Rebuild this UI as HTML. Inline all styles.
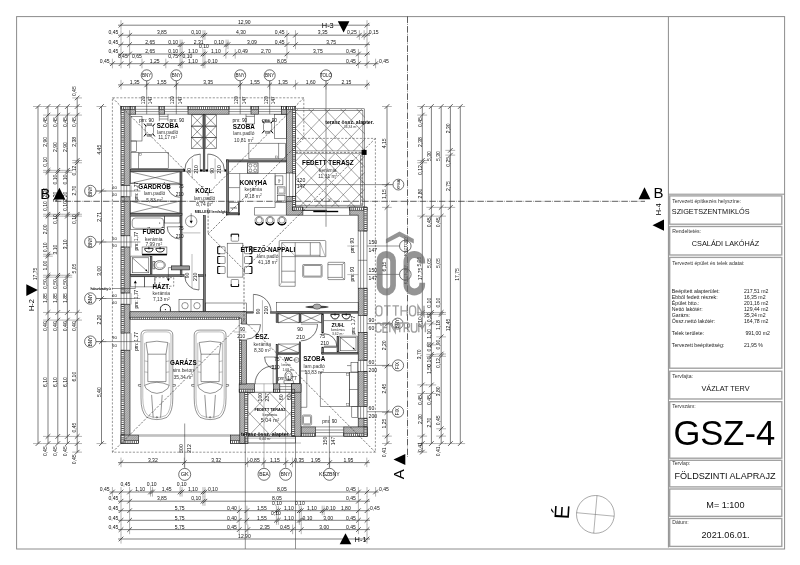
<!DOCTYPE html>
<html lang="hu"><head><meta charset="utf-8"><title>GSZ-4 F&#246;ldszinti alaprajz</title>
<style>
html,body{margin:0;padding:0;background:#fff;}
body{width:800px;height:565px;overflow:hidden;font-family:"Liberation Sans",sans-serif;}
svg{display:block;filter:grayscale(1);font-family:"Liberation Sans",sans-serif;}
.fr{stroke:#8c8c8c;stroke-width:1;fill:none;}
.bx{stroke:#a0a0a0;stroke-width:1.35;fill:none;}
.l{stroke:#2a2a2a;stroke-width:.5;fill:none;}
.lt{stroke:#555;stroke-width:.4;fill:none;}
.lw{stroke:#2a2a2a;stroke-width:.5;fill:#fff;}
.w{stroke:#111;stroke-width:.7;fill:none;}
.wf{stroke:#111;stroke-width:.6;fill:url(#hm);}
.wi{stroke:#111;stroke-width:.6;fill:url(#hi);}
.wp{stroke:#111;stroke-width:.7;fill:#fff;}
.pw{stroke:#1a1a1a;stroke-width:.6;fill:#fff;}
.dl{stroke:#2a2a2a;stroke-width:.6;fill:none;}
.tk{stroke:#111;stroke-width:.7;fill:none;}
.ext{stroke:#6a6a6a;stroke-width:.5;fill:none;}
.ds{stroke:#333;stroke-width:.5;fill:none;stroke-dasharray:2.2 1.5;}
.dg{stroke:#222;stroke-width:.6;fill:none;stroke-dasharray:2.2 1.5;}
.sec{stroke:#2a2a2a;stroke-width:.75;fill:none;stroke-dasharray:6.6 1.2 .6 1.2;}
.d{font-size:5.05px;fill:#111;}
.ds4{font-size:4.8px;fill:#111;}
.rb{font-size:6.3px;font-weight:bold;fill:#000;}
.rs{font-size:4.9px;fill:#333;}
.rt{font-size:3.4px;fill:#333;}
.tl{font-size:5.15px;fill:#333;}
.tv{font-size:5.2px;fill:#222;}
.t7{font-size:7.3px;fill:#111;}
.t9{font-size:9.1px;fill:#111;}
.tb{font-size:34.6px;fill:#000;}
.mk{font-size:15px;fill:#000;}
.mh{font-size:7.4px;fill:#000;}
.bk{fill:#000;stroke:none;}
.cl{font-size:4.5px;fill:#111;}
.tile{stroke:#333;stroke-width:.45;fill:none;}
.wm{fill:#8e8e8e;stroke:none;}
.wms{stroke:#8e8e8e;fill:none;}
.pt{stroke:#111;stroke-width:.5;fill:#787878;}
.dl5{font-size:5.1px;fill:#111;}
.dl4{font-size:4.7px;fill:#111;}

</style></head>
<body>
<svg width="800" height="565" viewBox="0 0 800 565">
<defs>
<pattern id="hm" width="1.6" height="1.6" patternUnits="userSpaceOnUse" patternTransform="rotate(45)">
<rect width="1.6" height="1.6" fill="#bcbcbc"/><line x1="0" y1="0" x2="0" y2="1.6" stroke="#5e5e5e" stroke-width=".55"/>
</pattern>
<pattern id="hi" width="2" height="2" patternUnits="userSpaceOnUse">
<rect width="2" height="2" fill="#d8d8d8"/><path d="M0 0H2M0 0V2" stroke="#111" stroke-width="1.1" fill="none"/>
</pattern>
<clipPath id="ct1"><rect x="295.7" y="108.8" width="69" height="98.2"/></clipPath>
<clipPath id="ct2"><rect x="247.9" y="391" width="44.6" height="43"/></clipPath>
</defs>

<rect x="0" y="0" width="800" height="565" fill="#fff"/>
<rect x="16.6" y="16.6" width="768" height="532.4" class="fr"/>
<line x1="668.4" y1="16.6" x2="668.4" y2="547.5" class="fr"/>
<line x1="668.4" y1="194.2" x2="784.5" y2="194.2" class="fr"/>
<rect x="669.7" y="195.9" width="112.1" height="28.3" class="bx"/>
<rect x="669.7" y="226.5" width="112.1" height="28.5" class="bx"/>
<rect x="669.7" y="257.4" width="112.1" height="110.8" class="bx"/>
<rect x="669.7" y="371.2" width="112.1" height="27.8" class="bx"/>
<rect x="669.7" y="401.7" width="112.1" height="56.5" class="bx"/>
<rect x="669.7" y="460.3" width="112.1" height="26.6" class="bx"/>
<rect x="669.7" y="489" width="112.1" height="27.3" class="bx"/>
<rect x="669.7" y="518.5" width="112.1" height="27.9" class="bx"/>
<text x="672.2" y="202.6" class="tl" text-anchor="start">Tervezett &#233;p&#237;tkez&#233;s helysz&#237;ne:</text>
<text x="671.8" y="214" class="t7" text-anchor="start">SZIGETSZENTMIKL&#211;S</text>
<text x="672.2" y="232.6" class="tl" text-anchor="start">Rendeltet&#233;s:</text>
<text x="725.5" y="246.1" class="t7" text-anchor="middle">CSAL&#193;DI LAK&#211;H&#193;Z</text>
<text x="672.2" y="265.2" class="tl" text-anchor="start">Tervezett &#233;p&#252;let &#233;s telek adatai:</text>
<text x="671.8" y="292.8" class="tv" text-anchor="start">Be&#233;p&#237;tett alapter&#252;let:</text>
<text x="743.9" y="292.8" class="tv" text-anchor="start">217,51 m2</text>
<text x="671.8" y="298.8" class="tv" text-anchor="start">Ebb&#337;l fedett r&#233;szek:</text>
<text x="743.9" y="298.8" class="tv" text-anchor="start">16,35 m2</text>
<text x="671.8" y="304.8" class="tv" text-anchor="start">&#201;p&#252;let btto.:</text>
<text x="743.9" y="304.8" class="tv" text-anchor="start">201,16 m2</text>
<text x="671.8" y="310.8" class="tv" text-anchor="start">Nett&#243; lak&#243;t&#233;r:</text>
<text x="743.9" y="310.8" class="tv" text-anchor="start">129,44 m2</text>
<text x="671.8" y="316.8" class="tv" text-anchor="start">Gar&#225;zs:</text>
<text x="743.9" y="316.8" class="tv" text-anchor="start">35,34 m2</text>
<text x="671.8" y="322.8" class="tv" text-anchor="start">&#214;ssz.nett&#243; lak&#243;t&#233;r:</text>
<text x="743.9" y="322.8" class="tv" text-anchor="start">164,78 m2</text>
<text x="671.8" y="334.8" class="tv" text-anchor="start">Telek ter&#252;lete:</text>
<text x="745.4" y="334.8" class="tv" text-anchor="start">991,00 m2</text>
<text x="671.8" y="346.8" class="tv" text-anchor="start">Tervezett be&#233;p&#237;tetts&#233;g:</text>
<text x="743.9" y="346.8" class="tv" text-anchor="start">21,95 %</text>
<text x="672.2" y="377.8" class="tl" text-anchor="start">Tervfajta:</text>
<text x="725.5" y="390.8" class="t7" text-anchor="middle">V&#193;ZLAT TERV</text>
<text x="672.2" y="407.6" class="tl" text-anchor="start">Tervsz&#225;m:</text>
<text x="724.3" y="444.9" class="tb" text-anchor="middle">GSZ-4</text>
<text x="672.2" y="464.8" class="tl" text-anchor="start">Tervlap:</text>
<text x="725" y="478.7" class="t9" text-anchor="middle">F&#214;LDSZINTI ALAPRAJZ</text>
<text x="725.4" y="507.9" class="t9" text-anchor="middle">M= 1:100</text>
<text x="672.2" y="524.1" class="tl" text-anchor="start">D&#225;tum:</text>
<text x="725.6" y="537.5" class="t9" text-anchor="middle">2021.06.01.</text>
<g clip-path="url(#ct1)">
<line x1="100.5" y1="108.8" x2="195.16" y2="207" class="tile"/>
<line x1="106.1" y1="108.8" x2="11.44" y2="207" class="tile"/>
<line x1="116.5" y1="108.8" x2="211.16" y2="207" class="tile"/>
<line x1="122.1" y1="108.8" x2="27.44" y2="207" class="tile"/>
<line x1="132.5" y1="108.8" x2="227.16" y2="207" class="tile"/>
<line x1="138.1" y1="108.8" x2="43.44" y2="207" class="tile"/>
<line x1="148.5" y1="108.8" x2="243.16" y2="207" class="tile"/>
<line x1="154.1" y1="108.8" x2="59.44" y2="207" class="tile"/>
<line x1="164.5" y1="108.8" x2="259.16" y2="207" class="tile"/>
<line x1="170.1" y1="108.8" x2="75.44" y2="207" class="tile"/>
<line x1="180.5" y1="108.8" x2="275.16" y2="207" class="tile"/>
<line x1="186.1" y1="108.8" x2="91.44" y2="207" class="tile"/>
<line x1="196.5" y1="108.8" x2="291.16" y2="207" class="tile"/>
<line x1="202.1" y1="108.8" x2="107.44" y2="207" class="tile"/>
<line x1="212.5" y1="108.8" x2="307.16" y2="207" class="tile"/>
<line x1="218.1" y1="108.8" x2="123.44" y2="207" class="tile"/>
<line x1="228.5" y1="108.8" x2="323.16" y2="207" class="tile"/>
<line x1="234.1" y1="108.8" x2="139.44" y2="207" class="tile"/>
<line x1="244.5" y1="108.8" x2="339.16" y2="207" class="tile"/>
<line x1="250.1" y1="108.8" x2="155.44" y2="207" class="tile"/>
<line x1="260.5" y1="108.8" x2="355.16" y2="207" class="tile"/>
<line x1="266.1" y1="108.8" x2="171.44" y2="207" class="tile"/>
<line x1="276.5" y1="108.8" x2="371.16" y2="207" class="tile"/>
<line x1="282.1" y1="108.8" x2="187.44" y2="207" class="tile"/>
<line x1="292.5" y1="108.8" x2="387.16" y2="207" class="tile"/>
<line x1="298.1" y1="108.8" x2="203.44" y2="207" class="tile"/>
<line x1="308.5" y1="108.8" x2="403.16" y2="207" class="tile"/>
<line x1="314.1" y1="108.8" x2="219.44" y2="207" class="tile"/>
<line x1="324.5" y1="108.8" x2="419.16" y2="207" class="tile"/>
<line x1="330.1" y1="108.8" x2="235.44" y2="207" class="tile"/>
<line x1="340.5" y1="108.8" x2="435.16" y2="207" class="tile"/>
<line x1="346.1" y1="108.8" x2="251.44" y2="207" class="tile"/>
<line x1="356.5" y1="108.8" x2="451.16" y2="207" class="tile"/>
<line x1="362.1" y1="108.8" x2="267.44" y2="207" class="tile"/>
<line x1="372.5" y1="108.8" x2="467.16" y2="207" class="tile"/>
<line x1="378.1" y1="108.8" x2="283.44" y2="207" class="tile"/>
<line x1="388.5" y1="108.8" x2="483.16" y2="207" class="tile"/>
<line x1="394.1" y1="108.8" x2="299.44" y2="207" class="tile"/>
<line x1="404.5" y1="108.8" x2="499.16" y2="207" class="tile"/>
<line x1="410.1" y1="108.8" x2="315.44" y2="207" class="tile"/>
<line x1="420.5" y1="108.8" x2="515.16" y2="207" class="tile"/>
<line x1="426.1" y1="108.8" x2="331.44" y2="207" class="tile"/>
<line x1="436.5" y1="108.8" x2="531.16" y2="207" class="tile"/>
<line x1="442.1" y1="108.8" x2="347.44" y2="207" class="tile"/>
<line x1="452.5" y1="108.8" x2="547.16" y2="207" class="tile"/>
<line x1="458.1" y1="108.8" x2="363.44" y2="207" class="tile"/>
<line x1="468.5" y1="108.8" x2="563.16" y2="207" class="tile"/>
<line x1="474.1" y1="108.8" x2="379.44" y2="207" class="tile"/>
<line x1="484.5" y1="108.8" x2="579.16" y2="207" class="tile"/>
<line x1="490.1" y1="108.8" x2="395.44" y2="207" class="tile"/>
<line x1="500.5" y1="108.8" x2="595.16" y2="207" class="tile"/>
<line x1="506.1" y1="108.8" x2="411.44" y2="207" class="tile"/>
<line x1="516.5" y1="108.8" x2="611.16" y2="207" class="tile"/>
<line x1="522.1" y1="108.8" x2="427.44" y2="207" class="tile"/>
</g>
<rect x="295.7" y="108.8" width="69" height="98.2" class="l"/>
<rect x="295.7" y="110.6" width="67.2" height="94.6" class="l"/>
<rect x="295.7" y="150.9" width="66.5" height="2.9" fill="#fff" stroke="#333" stroke-width=".45"/>
<line x1="295.7" y1="152.35" x2="362" y2="152.35" class="dg"/>
<line x1="360.5" y1="154.9" x2="360.5" y2="205.2" class="l"/>
<line x1="362" y1="154.9" x2="362" y2="205.2" class="dg"/>
<rect x="361.6" y="149.9" width="5" height="5" class="bk"/>
<path d="M320.4 198.2L323.6 201.8M323.6 198.2L320.4 201.8" class="l"/>
<path d="M327.9 198.2L331.1 201.8M331.1 198.2L327.9 201.8" class="l"/>
<g clip-path="url(#ct2)">
<line x1="110.54" y1="392.2" x2="150.52" y2="434.2" class="tile"/>
<line x1="131.86" y1="392.2" x2="91.88" y2="434.2" class="tile"/>
<line x1="130.34" y1="392.2" x2="170.32" y2="434.2" class="tile"/>
<line x1="151.66" y1="392.2" x2="111.68" y2="434.2" class="tile"/>
<line x1="150.14" y1="392.2" x2="190.12" y2="434.2" class="tile"/>
<line x1="171.46" y1="392.2" x2="131.48" y2="434.2" class="tile"/>
<line x1="169.94" y1="392.2" x2="209.92" y2="434.2" class="tile"/>
<line x1="191.26" y1="392.2" x2="151.28" y2="434.2" class="tile"/>
<line x1="189.74" y1="392.2" x2="229.72" y2="434.2" class="tile"/>
<line x1="211.06" y1="392.2" x2="171.08" y2="434.2" class="tile"/>
<line x1="209.54" y1="392.2" x2="249.52" y2="434.2" class="tile"/>
<line x1="230.86" y1="392.2" x2="190.88" y2="434.2" class="tile"/>
<line x1="229.34" y1="392.2" x2="269.32" y2="434.2" class="tile"/>
<line x1="250.66" y1="392.2" x2="210.68" y2="434.2" class="tile"/>
<line x1="249.14" y1="392.2" x2="289.12" y2="434.2" class="tile"/>
<line x1="270.46" y1="392.2" x2="230.48" y2="434.2" class="tile"/>
<line x1="268.94" y1="392.2" x2="308.92" y2="434.2" class="tile"/>
<line x1="290.26" y1="392.2" x2="250.28" y2="434.2" class="tile"/>
<line x1="288.74" y1="392.2" x2="328.72" y2="434.2" class="tile"/>
<line x1="310.06" y1="392.2" x2="270.08" y2="434.2" class="tile"/>
<line x1="308.54" y1="392.2" x2="348.52" y2="434.2" class="tile"/>
<line x1="329.86" y1="392.2" x2="289.88" y2="434.2" class="tile"/>
<line x1="328.34" y1="392.2" x2="368.32" y2="434.2" class="tile"/>
<line x1="349.66" y1="392.2" x2="309.68" y2="434.2" class="tile"/>
<line x1="348.14" y1="392.2" x2="388.12" y2="434.2" class="tile"/>
<line x1="369.46" y1="392.2" x2="329.48" y2="434.2" class="tile"/>
<line x1="367.94" y1="392.2" x2="407.92" y2="434.2" class="tile"/>
<line x1="389.26" y1="392.2" x2="349.28" y2="434.2" class="tile"/>
<line x1="387.74" y1="392.2" x2="427.72" y2="434.2" class="tile"/>
<line x1="409.06" y1="392.2" x2="369.08" y2="434.2" class="tile"/>
</g>
<rect x="247.8" y="392.2" width="44" height="42" class="l"/>
<line x1="239.2" y1="436.2" x2="301" y2="436.2" class="l"/>
<rect x="244.7" y="436.2" width="50.9" height="6.8" class="l"/>
<line x1="244.7" y1="438.2" x2="295.6" y2="438.2" class="lt"/>
<line x1="236" y1="443" x2="301" y2="443" class="lt"/>
<rect x="121.1" y="106.4" width="14.6" height="7.8" class="wf"/>
<rect x="121.1" y="106.4" width="14.6" height="3" fill="#fff" stroke="#111" stroke-width=".55"/>
<line x1="121.1" y1="107.9" x2="135.7" y2="107.9" stroke="#111" stroke-width="2.5" stroke-dasharray=".6 1.3"/>
<rect x="159" y="106.4" width="5.7" height="7.8" class="wf"/>
<rect x="159" y="106.4" width="5.7" height="3" fill="#fff" stroke="#111" stroke-width=".55"/>
<line x1="159" y1="107.9" x2="164.7" y2="107.9" stroke="#111" stroke-width="2.5" stroke-dasharray=".6 1.3"/>
<rect x="188" y="106.4" width="41" height="7.8" class="wf"/>
<rect x="188" y="106.4" width="41" height="3" fill="#fff" stroke="#111" stroke-width=".55"/>
<line x1="188" y1="107.9" x2="229" y2="107.9" stroke="#111" stroke-width="2.5" stroke-dasharray=".6 1.3"/>
<rect x="251" y="106.4" width="7.4" height="7.8" class="wf"/>
<rect x="251" y="106.4" width="7.4" height="3" fill="#fff" stroke="#111" stroke-width=".55"/>
<line x1="251" y1="107.9" x2="258.4" y2="107.9" stroke="#111" stroke-width="2.5" stroke-dasharray=".6 1.3"/>
<rect x="281.4" y="106.4" width="14.2" height="7.8" class="wf"/>
<rect x="281.4" y="106.4" width="14.2" height="3" fill="#fff" stroke="#111" stroke-width=".55"/>
<line x1="281.4" y1="107.9" x2="295.6" y2="107.9" stroke="#111" stroke-width="2.5" stroke-dasharray=".6 1.3"/>
<line x1="135.7" y1="106.4" x2="159" y2="106.4" class="l"/>
<line x1="135.7" y1="109.3" x2="159" y2="109.3" class="l"/>
<line x1="135.7" y1="111.6" x2="159" y2="111.6" class="l"/>
<line x1="135.7" y1="114.2" x2="159" y2="114.2" class="l"/>
<line x1="164.7" y1="106.4" x2="188" y2="106.4" class="l"/>
<line x1="164.7" y1="109.3" x2="188" y2="109.3" class="l"/>
<line x1="164.7" y1="111.6" x2="188" y2="111.6" class="l"/>
<line x1="164.7" y1="114.2" x2="188" y2="114.2" class="l"/>
<line x1="229" y1="106.4" x2="251" y2="106.4" class="l"/>
<line x1="229" y1="109.3" x2="251" y2="109.3" class="l"/>
<line x1="229" y1="111.6" x2="251" y2="111.6" class="l"/>
<line x1="229" y1="114.2" x2="251" y2="114.2" class="l"/>
<line x1="258.4" y1="106.4" x2="281.4" y2="106.4" class="l"/>
<line x1="258.4" y1="109.3" x2="281.4" y2="109.3" class="l"/>
<line x1="258.4" y1="111.6" x2="281.4" y2="111.6" class="l"/>
<line x1="258.4" y1="114.2" x2="281.4" y2="114.2" class="l"/>
<rect x="121.1" y="106.4" width="8.9" height="79.1" class="wf"/>
<rect x="121.1" y="106.4" width="3" height="79.1" fill="#fff" stroke="#111" stroke-width=".55"/>
<line x1="122.6" y1="106.4" x2="122.6" y2="185.5" stroke="#111" stroke-width="2.5" stroke-dasharray=".6 1.3"/>
<rect x="121.1" y="196.8" width="8.9" height="39" class="wf"/>
<rect x="121.1" y="196.8" width="3" height="39" fill="#fff" stroke="#111" stroke-width=".55"/>
<line x1="122.6" y1="196.8" x2="122.6" y2="235.8" stroke="#111" stroke-width="2.5" stroke-dasharray=".6 1.3"/>
<rect x="121.1" y="247" width="8.9" height="46" class="wf"/>
<rect x="121.1" y="247" width="3" height="46" fill="#fff" stroke="#111" stroke-width=".55"/>
<line x1="122.6" y1="247" x2="122.6" y2="293" stroke="#111" stroke-width="2.5" stroke-dasharray=".6 1.3"/>
<rect x="121.1" y="304.2" width="8.9" height="28.8" class="wf"/>
<rect x="121.1" y="304.2" width="3" height="28.8" fill="#fff" stroke="#111" stroke-width=".55"/>
<line x1="122.6" y1="304.2" x2="122.6" y2="333" stroke="#111" stroke-width="2.5" stroke-dasharray=".6 1.3"/>
<rect x="121.1" y="350.2" width="8.9" height="93.3" class="wf"/>
<rect x="121.1" y="350.2" width="3" height="93.3" fill="#fff" stroke="#111" stroke-width=".55"/>
<line x1="122.6" y1="350.2" x2="122.6" y2="443.5" stroke="#111" stroke-width="2.5" stroke-dasharray=".6 1.3"/>
<line x1="121.1" y1="185.5" x2="121.1" y2="196.8" class="l"/>
<line x1="124" y1="185.5" x2="124" y2="196.8" class="l"/>
<line x1="126.7" y1="185.5" x2="126.7" y2="196.8" class="l"/>
<line x1="130" y1="185.5" x2="130" y2="196.8" class="l"/>
<line x1="121.1" y1="235.8" x2="121.1" y2="247" class="l"/>
<line x1="124" y1="235.8" x2="124" y2="247" class="l"/>
<line x1="126.7" y1="235.8" x2="126.7" y2="247" class="l"/>
<line x1="130" y1="235.8" x2="130" y2="247" class="l"/>
<line x1="121.1" y1="293" x2="121.1" y2="304.2" class="l"/>
<line x1="124" y1="293" x2="124" y2="304.2" class="l"/>
<line x1="126.7" y1="293" x2="126.7" y2="304.2" class="l"/>
<line x1="130" y1="293" x2="130" y2="304.2" class="l"/>
<line x1="121.1" y1="333" x2="121.1" y2="350.2" class="l"/>
<line x1="124" y1="333" x2="124" y2="350.2" class="l"/>
<line x1="126.7" y1="333" x2="126.7" y2="350.2" class="l"/>
<line x1="130" y1="333" x2="130" y2="350.2" class="l"/>
<rect x="121.1" y="106.4" width="8.9" height="3" fill="#fff" stroke="#111" stroke-width=".55"/>
<line x1="121.1" y1="107.9" x2="130" y2="107.9" stroke="#111" stroke-width="2.5" stroke-dasharray=".6 1.3"/>
<rect x="121.1" y="435" width="17.3" height="8.5" class="wf"/>
<rect x="121.1" y="440.5" width="17.3" height="3" fill="#fff" stroke="#111" stroke-width=".55"/>
<line x1="121.1" y1="442" x2="138.4" y2="442" stroke="#111" stroke-width="2.5" stroke-dasharray=".6 1.3"/>
<rect x="121.1" y="435" width="3" height="8.5" fill="#fff" stroke="#111" stroke-width=".55"/>
<line x1="122.6" y1="435" x2="122.6" y2="443.5" stroke="#111" stroke-width="2.5" stroke-dasharray=".6 1.3"/>
<rect x="230.3" y="435" width="17.5" height="8.5" class="wf"/>
<rect x="230.3" y="440.5" width="17.5" height="3" fill="#fff" stroke="#111" stroke-width=".55"/>
<line x1="230.3" y1="442" x2="247.8" y2="442" stroke="#111" stroke-width="2.5" stroke-dasharray=".6 1.3"/>
<line x1="138.4" y1="435" x2="230.3" y2="435" class="l"/>
<line x1="138.4" y1="436.3" x2="230.3" y2="436.3" class="lt"/>
<rect x="286.4" y="106.4" width="9.2" height="66.6" class="wf"/>
<rect x="292.6" y="106.4" width="3" height="66.6" fill="#fff" stroke="#111" stroke-width=".55"/>
<line x1="294.1" y1="106.4" x2="294.1" y2="173" stroke="#111" stroke-width="2.5" stroke-dasharray=".6 1.3"/>
<rect x="286.4" y="106.4" width="9.2" height="3" fill="#fff" stroke="#111" stroke-width=".55"/>
<line x1="286.4" y1="107.9" x2="295.6" y2="107.9" stroke="#111" stroke-width="2.5" stroke-dasharray=".6 1.3"/>
<line x1="286.4" y1="173" x2="286.4" y2="196.5" class="l"/>
<line x1="289.4" y1="173" x2="289.4" y2="196.5" class="l"/>
<line x1="292.8" y1="173" x2="292.8" y2="196.5" class="l"/>
<line x1="295.6" y1="173" x2="295.6" y2="196.5" class="l"/>
<path d="M286.4 196.5H295.6V207.2H302.8V215.2H286.4Z" class="wf"/>
<rect x="292.6" y="196.5" width="3" height="13.7" fill="#fff" stroke="#111" stroke-width=".55"/>
<line x1="294.1" y1="196.5" x2="294.1" y2="210.2" stroke="#111" stroke-width="2.5" stroke-dasharray=".6 1.3"/>
<rect x="292.6" y="207.2" width="10.2" height="3" fill="#fff" stroke="#111" stroke-width=".55"/>
<line x1="292.6" y1="208.7" x2="302.8" y2="208.7" stroke="#111" stroke-width="2.5" stroke-dasharray=".6 1.3"/>
<path d="M349.7 207.2H367V231H358.2V215.2H349.7Z" class="wf"/>
<rect x="349.7" y="207.2" width="17.3" height="3" fill="#fff" stroke="#111" stroke-width=".55"/>
<line x1="349.7" y1="208.7" x2="367" y2="208.7" stroke="#111" stroke-width="2.5" stroke-dasharray=".6 1.3"/>
<rect x="364" y="207.2" width="3" height="23.8" fill="#fff" stroke="#111" stroke-width=".55"/>
<line x1="365.5" y1="207.2" x2="365.5" y2="231" stroke="#111" stroke-width="2.5" stroke-dasharray=".6 1.3"/>
<line x1="302.6" y1="210.3" x2="327" y2="210.3" class="l" style="stroke:#000;stroke-width:.9"/>
<line x1="313.3" y1="211.5" x2="338.2" y2="211.5" class="l" style="stroke:#000;stroke-width:1.4"/>
<line x1="302.8" y1="207.8" x2="349.7" y2="207.8" class="l"/>
<line x1="302.8" y1="215.4" x2="349.7" y2="215.4" class="l"/>
<rect x="358.2" y="288.2" width="8.8" height="27.2" class="wf"/>
<rect x="364" y="288.2" width="3" height="27.2" fill="#fff" stroke="#111" stroke-width=".55"/>
<line x1="365.5" y1="288.2" x2="365.5" y2="315.4" stroke="#111" stroke-width="2.5" stroke-dasharray=".6 1.3"/>
<rect x="358.2" y="332.4" width="8.8" height="27.8" class="wf"/>
<rect x="364" y="332.4" width="3" height="27.8" fill="#fff" stroke="#111" stroke-width=".55"/>
<line x1="365.5" y1="332.4" x2="365.5" y2="360.2" stroke="#111" stroke-width="2.5" stroke-dasharray=".6 1.3"/>
<rect x="358.2" y="371.6" width="8.8" height="34.9" class="wf"/>
<rect x="364" y="371.6" width="3" height="34.9" fill="#fff" stroke="#111" stroke-width=".55"/>
<line x1="365.5" y1="371.6" x2="365.5" y2="406.5" stroke="#111" stroke-width="2.5" stroke-dasharray=".6 1.3"/>
<rect x="358.2" y="418.2" width="8.8" height="18" class="wf"/>
<rect x="364" y="418.2" width="3" height="18" fill="#fff" stroke="#111" stroke-width=".55"/>
<line x1="365.5" y1="418.2" x2="365.5" y2="436.2" stroke="#111" stroke-width="2.5" stroke-dasharray=".6 1.3"/>
<line x1="358.2" y1="231" x2="358.2" y2="288.2" class="l"/>
<line x1="360.6" y1="231" x2="360.6" y2="288.2" class="l"/>
<line x1="363.6" y1="231" x2="363.6" y2="288.2" class="l"/>
<line x1="367" y1="231" x2="367" y2="288.2" class="l"/>
<line x1="358.2" y1="315.4" x2="358.2" y2="332.4" class="l"/>
<line x1="360.6" y1="315.4" x2="360.6" y2="332.4" class="l"/>
<line x1="363.6" y1="315.4" x2="363.6" y2="332.4" class="l"/>
<line x1="367" y1="315.4" x2="367" y2="332.4" class="l"/>
<line x1="358.2" y1="360.2" x2="358.2" y2="371.6" class="l"/>
<line x1="360.6" y1="360.2" x2="360.6" y2="371.6" class="l"/>
<line x1="363.6" y1="360.2" x2="363.6" y2="371.6" class="l"/>
<line x1="367" y1="360.2" x2="367" y2="371.6" class="l"/>
<line x1="358.2" y1="406.5" x2="358.2" y2="418.2" class="l"/>
<line x1="360.6" y1="406.5" x2="360.6" y2="418.2" class="l"/>
<line x1="363.6" y1="406.5" x2="363.6" y2="418.2" class="l"/>
<line x1="367" y1="406.5" x2="367" y2="418.2" class="l"/>
<line x1="358.2" y1="260.3" x2="367" y2="260.3" class="l"/>
<rect x="301" y="426.9" width="14.4" height="9.3" class="wf"/>
<rect x="301" y="433.2" width="14.4" height="3" fill="#fff" stroke="#111" stroke-width=".55"/>
<line x1="301" y1="434.7" x2="315.4" y2="434.7" stroke="#111" stroke-width="2.5" stroke-dasharray=".6 1.3"/>
<rect x="343.8" y="426.9" width="23.2" height="9.3" class="wf"/>
<rect x="343.8" y="433.2" width="23.2" height="3" fill="#fff" stroke="#111" stroke-width=".55"/>
<line x1="343.8" y1="434.7" x2="367" y2="434.7" stroke="#111" stroke-width="2.5" stroke-dasharray=".6 1.3"/>
<rect x="364" y="426.9" width="3" height="9.3" fill="#fff" stroke="#111" stroke-width=".55"/>
<line x1="365.5" y1="426.9" x2="365.5" y2="436.2" stroke="#111" stroke-width="2.5" stroke-dasharray=".6 1.3"/>
<line x1="315.4" y1="426.9" x2="343.8" y2="426.9" class="l"/>
<line x1="315.4" y1="430" x2="343.8" y2="430" class="l"/>
<line x1="315.4" y1="432.6" x2="343.8" y2="432.6" class="l"/>
<line x1="315.4" y1="436.2" x2="343.8" y2="436.2" class="l"/>
<rect x="291.8" y="383.8" width="9.2" height="52.4" class="wf"/>
<rect x="291.8" y="383.8" width="3" height="52.4" fill="#fff" stroke="#111" stroke-width=".55"/>
<line x1="293.3" y1="383.8" x2="293.3" y2="436.2" stroke="#111" stroke-width="2.5" stroke-dasharray=".6 1.3"/>
<rect x="239.2" y="383.8" width="15.4" height="8.4" class="wf"/>
<rect x="239.2" y="389.2" width="15.4" height="3" fill="#fff" stroke="#111" stroke-width=".55"/>
<line x1="239.2" y1="390.7" x2="254.6" y2="390.7" stroke="#111" stroke-width="2.5" stroke-dasharray=".6 1.3"/>
<rect x="273.6" y="383.8" width="6.2" height="8.4" class="wf"/>
<rect x="273.6" y="389.2" width="6.2" height="3" fill="#fff" stroke="#111" stroke-width=".55"/>
<line x1="273.6" y1="390.7" x2="279.8" y2="390.7" stroke="#111" stroke-width="2.5" stroke-dasharray=".6 1.3"/>
<rect x="291.6" y="383.8" width="9.4" height="8.4" class="wf"/>
<rect x="291.8" y="389.2" width="3" height="3" fill="#fff" stroke="#111" stroke-width=".55"/>
<line x1="291.8" y1="390.7" x2="294.8" y2="390.7" stroke="#111" stroke-width="2.5" stroke-dasharray=".6 1.3"/>
<line x1="279.8" y1="383.8" x2="291.6" y2="383.8" class="l"/>
<line x1="279.8" y1="386.6" x2="291.6" y2="386.6" class="l"/>
<line x1="279.8" y1="389.4" x2="291.6" y2="389.4" class="l"/>
<line x1="279.8" y1="392.2" x2="291.6" y2="392.2" class="l"/>
<line x1="254.6" y1="383.8" x2="273.6" y2="383.8" class="lt"/>
<line x1="254.6" y1="392.2" x2="273.6" y2="392.2" class="lt"/>
<rect x="239.8" y="392.2" width="8" height="51.3" class="wf"/>
<rect x="244.8" y="392.2" width="3" height="51.3" fill="#fff" stroke="#111" stroke-width=".55"/>
<line x1="246.3" y1="392.2" x2="246.3" y2="443.5" stroke="#111" stroke-width="2.5" stroke-dasharray=".6 1.3"/>
<rect x="239.3" y="340" width="7.2" height="44" class="wf"/>
<rect x="239.3" y="340" width="2.1" height="44" fill="#fff" stroke="#111" stroke-width=".55"/>
<line x1="240.35" y1="340" x2="240.35" y2="384" stroke="#111" stroke-width="1.6" stroke-dasharray=".6 1.3"/>
<path d="M130 311.6H246.5V324.1H241.4V318.2H130Z" class="wf"/>
<line x1="239.3" y1="319.2" x2="239.3" y2="340" class="l"/>
<rect x="130" y="317.2" width="109.3" height="2.2" fill="#fff" stroke="#111" stroke-width=".55"/>
<line x1="130" y1="318.3" x2="239.3" y2="318.3" stroke="#111" stroke-width="1.7" stroke-dasharray=".6 1.3"/>
<rect x="203.2" y="114.5" width="1.7" height="57.2" class="pt"/>
<rect x="130.3" y="169.1" width="54" height="2.2" class="pt"/>
<rect x="226.5" y="159.9" width="59.6" height="2.1" class="pt"/>
<rect x="226.5" y="159.9" width="2.2" height="55" class="pt"/>
<rect x="226.5" y="213" width="12.9" height="1.9" class="pt"/>
<rect x="238.7" y="202.8" width="0.7" height="12.1" class="pt"/>
<rect x="180.2" y="171.9" width="1.8" height="104.6" class="pt"/>
<rect x="130.3" y="213.4" width="51.7" height="2" class="pt"/>
<rect x="130.3" y="274.7" width="53.8" height="1.8" class="pt"/>
<rect x="198.7" y="274.7" width="6.6" height="1.8" class="pt"/>
<rect x="203.3" y="215.6" width="2" height="95.7" class="pt"/>
<rect x="150.7" y="256.3" width="1.3" height="17.8" class="pt"/>
<rect x="270.7" y="311.8" width="87.2" height="1.4" class="pt"/>
<rect x="246.8" y="311.8" width="6.5" height="1.3" class="pt"/>
<rect x="299.3" y="313.8" width="1.4" height="8.9" class="pt"/>
<rect x="299.3" y="341.9" width="1.4" height="41.6" class="pt"/>
<rect x="276.1" y="313.8" width="1.8" height="8.7" class="pt"/>
<rect x="276.1" y="344.3" width="1.6" height="39.2" class="pt"/>
<rect x="278.5" y="353.1" width="20.2" height="1.3" class="pt"/>
<rect x="321.8" y="313.8" width="1.8" height="19.3" class="pt"/>
<rect x="321.8" y="347.1" width="1.8" height="7" class="pt"/>
<rect x="321.8" y="352.6" width="36.1" height="1.5" class="pt"/>
<rect x="337" y="336.4" width="1.7" height="15.6" class="pt"/>
<rect x="191.7" y="114.8" width="11.2" height="11.3" class="l"/>
<line x1="191.7" y1="114.8" x2="202.9" y2="126.1" class="l"/>
<line x1="191.7" y1="126.1" x2="202.9" y2="114.8" class="l"/>
<rect x="205.2" y="114.8" width="11.1" height="11.3" class="l"/>
<line x1="205.2" y1="114.8" x2="216.3" y2="126.1" class="l"/>
<line x1="205.2" y1="126.1" x2="216.3" y2="114.8" class="l"/>
<rect x="191.7" y="126.1" width="11.2" height="11.3" class="l"/>
<line x1="191.7" y1="126.1" x2="202.9" y2="137.4" class="l"/>
<line x1="191.7" y1="137.4" x2="202.9" y2="126.1" class="l"/>
<rect x="205.2" y="126.1" width="11.1" height="11.3" class="l"/>
<line x1="205.2" y1="126.1" x2="216.3" y2="137.4" class="l"/>
<line x1="205.2" y1="137.4" x2="216.3" y2="126.1" class="l"/>
<rect x="191.7" y="137.4" width="11.2" height="11.3" class="l"/>
<line x1="191.7" y1="137.4" x2="202.9" y2="148.7" class="l"/>
<line x1="191.7" y1="148.7" x2="202.9" y2="137.4" class="l"/>
<rect x="205.2" y="137.4" width="11.1" height="11.3" class="l"/>
<line x1="205.2" y1="137.4" x2="216.3" y2="148.7" class="l"/>
<line x1="205.2" y1="148.7" x2="216.3" y2="137.4" class="l"/>
<rect x="130.4" y="171.8" width="49.5" height="11.6" class="l"/>
<line x1="130.4" y1="171.8" x2="179.9" y2="183.4" class="l"/>
<line x1="130.4" y1="183.4" x2="179.9" y2="171.8" class="l"/>
<rect x="130.4" y="201.1" width="49.5" height="12" class="l"/>
<line x1="130.4" y1="201.1" x2="179.9" y2="213.1" class="l"/>
<line x1="130.4" y1="213.1" x2="179.9" y2="201.1" class="l"/>
<rect x="278.2" y="313.7" width="20.8" height="9.1" class="l"/>
<line x1="278.2" y1="313.7" x2="299" y2="322.8" class="l"/>
<line x1="278.2" y1="322.8" x2="299" y2="313.7" class="l"/>
<rect x="301" y="313.7" width="20.5" height="9.1" class="l"/>
<line x1="301" y1="313.7" x2="321.5" y2="322.8" class="l"/>
<line x1="301" y1="322.8" x2="321.5" y2="313.7" class="l"/>
<rect x="278.2" y="344" width="20.8" height="8.8" class="l"/>
<line x1="278.2" y1="344" x2="299" y2="352.8" class="l"/>
<line x1="278.2" y1="352.8" x2="299" y2="344" class="l"/>
<path d="M184.75 170 A15.55 15.9 0 0 1 200.3 154.1" class="l" style="stroke:#111;stroke-width:.6"/>
<line x1="200.3" y1="170" x2="200.3" y2="154.1" class="l"/>
<path d="M224.4 170 A16.7 15.9 0 0 0 207.7 154.1" class="l" style="stroke:#111;stroke-width:.6"/>
<line x1="207.7" y1="170" x2="207.7" y2="154.1" class="l"/>
<rect x="183.6" y="169.4" width="1.6" height="2.2" class="bk"/>
<rect x="200" y="169.4" width="2.7" height="2.2" class="bk"/>
<rect x="205.4" y="169.4" width="2.6" height="2.2" class="bk"/>
<rect x="224.4" y="169.4" width="1.8" height="2.2" class="bk"/>
<line x1="185.2" y1="171" x2="200" y2="171" class="lt"/>
<line x1="208" y1="171" x2="224.4" y2="171" class="lt"/>
<line x1="192.3" y1="158.5" x2="192.3" y2="179" class="lt"/>
<line x1="215.1" y1="158.5" x2="215.1" y2="179" class="lt"/>
<path d="M167.2 184.6 A12.7 12.7 0 0 0 179.9 197.3" class="l" style="stroke:#111;stroke-width:.6"/>
<line x1="179.9" y1="184.6" x2="167.2" y2="184.6" class="l"/>
<path d="M167.2 226.8 A12.7 12.2 0 0 0 179.9 239" class="l" style="stroke:#111;stroke-width:.6"/>
<line x1="179.9" y1="226.8" x2="167.2" y2="226.8" class="l"/>
<path d="M184.8 276.2 A14.2 13.8 0 0 0 199 290" class="l" style="stroke:#111;stroke-width:.6"/>
<line x1="199" y1="276.2" x2="199" y2="290" class="l"/>
<line x1="192" y1="254" x2="192" y2="288.6" class="lt"/>
<line x1="182.3" y1="232.9" x2="200.4" y2="232.9" class="lt"/>
<path d="M253.4 294.4 A17.6 17.2 0 0 1 271 311.6" class="l" style="stroke:#111;stroke-width:.6"/>
<line x1="253.4" y1="311.6" x2="253.4" y2="294.4" class="l"/>
<line x1="262.45" y1="300.2" x2="262.45" y2="332.6" class="lt"/>
<path d="M260.5 324.6 A14 14.6 0 0 1 246.5 339.2" class="l" style="stroke:#111;stroke-width:.6"/>
<line x1="246.5" y1="324.6" x2="260.5" y2="324.6" class="l"/>
<line x1="234" y1="332" x2="246.5" y2="332" class="lt"/>
<path d="M317.5 324.2 A16.6 16.6 0 0 1 300.9 340.8" class="l" style="stroke:#111;stroke-width:.6"/>
<line x1="300.9" y1="324.2" x2="317.5" y2="324.2" class="l"/>
<path d="M323.9 333.7 A13 13 0 0 1 336.9 346.7" class="l" style="stroke:#111;stroke-width:.6"/>
<line x1="323.9" y1="346.2" x2="336.7" y2="346.2" class="l" style="stroke:#111;stroke-width:.6"/>
<line x1="323.9" y1="347.3" x2="336.7" y2="347.3" class="l" style="stroke:#111;stroke-width:.6"/>
<path d="M264.6 357 A11.2 12.2 0 0 0 275.8 369.2" class="l" style="stroke:#111;stroke-width:.6"/>
<line x1="275.8" y1="357" x2="264.6" y2="357" class="l"/>
<path d="M255 384 A18.1 18 0 0 1 273.1 366" class="l" style="stroke:#111;stroke-width:.6"/>
<line x1="273.1" y1="384" x2="273.1" y2="366" class="l"/>
<rect x="131" y="116.3" width="11" height="24.7" class="l"/>
<rect x="131" y="141" width="5.4" height="10.6" class="l"/>
<rect x="131" y="152.6" width="37.2" height="16" class="l"/>
<line x1="138.5" y1="152.6" x2="138.5" y2="168.6" class="l"/>
<rect x="139.6" y="153.4" width="2" height="2" class="lt"/>
<rect x="145.3" y="125.5" width="8.2" height="9" rx="2" class="lw"/>
<line x1="146" y1="126.2" x2="144" y2="123.6" class="l" style="stroke:#000;stroke-width:1.0"/>
<line x1="152.8" y1="126.2" x2="154.8" y2="123.6" class="l" style="stroke:#000;stroke-width:1.0"/>
<line x1="146" y1="133.8" x2="144" y2="136.4" class="l" style="stroke:#000;stroke-width:1.0"/>
<line x1="152.8" y1="133.8" x2="154.8" y2="136.4" class="l" style="stroke:#000;stroke-width:1.0"/>
<rect x="147" y="123.6" width="4.8" height="1.4" class="lt" style="fill:#bbb"/>
<rect x="147" y="135" width="4.8" height="1.4" class="lt" style="fill:#bbb"/>
<path d="M159.3 114.2V121.2M168.0 114.2V121.2M159.3 116.4H168.0M159.3 119.0H168.0" class="l"/>
<rect x="274.4" y="114.6" width="12" height="23.9" class="l"/>
<rect x="248.9" y="143.2" width="36.8" height="15.6" class="l"/>
<line x1="278.6" y1="143.2" x2="278.6" y2="158.8" class="l"/>
<rect x="275.2" y="156" width="2.2" height="2" class="lt"/>
<rect x="263.5" y="122.4" width="8.2" height="9" rx="2" class="lw"/>
<line x1="264.2" y1="123.1" x2="262.2" y2="120.5" class="l" style="stroke:#000;stroke-width:1.0"/>
<line x1="271" y1="123.1" x2="273" y2="120.5" class="l" style="stroke:#000;stroke-width:1.0"/>
<line x1="264.2" y1="130.7" x2="262.2" y2="133.3" class="l" style="stroke:#000;stroke-width:1.0"/>
<line x1="271" y1="130.7" x2="273" y2="133.3" class="l" style="stroke:#000;stroke-width:1.0"/>
<rect x="265.2" y="120.5" width="4.8" height="1.4" class="lt" style="fill:#bbb"/>
<rect x="265.2" y="131.9" width="4.8" height="1.4" class="lt" style="fill:#bbb"/>
<path d="M246.0 114.2V124.0M254.5 114.2V124.0M246.0 116.4H254.5M246.0 124.0H254.5" class="l"/>
<line x1="229" y1="173.5" x2="286.4" y2="173.5" class="l"/>
<rect x="247.5" y="162.9" width="10.5" height="10.1" class="l" style="stroke-width:.7"/>
<circle cx="250.3" cy="165.6" r="1.5" class="l"/>
<circle cx="255.2" cy="165.6" r="1.5" class="l"/>
<circle cx="250.3" cy="170.4" r="1.5" class="l"/>
<circle cx="255.2" cy="170.4" r="1.5" class="l"/>
<line x1="229" y1="187.6" x2="239.7" y2="187.6" class="l"/>
<line x1="239.7" y1="173.5" x2="239.7" y2="202.5" class="l"/>
<rect x="229" y="202.5" width="9.4" height="10.2" class="l"/>
<text x="233.7" y="208.8" class="rt" text-anchor="middle">szek</text>
<line x1="275.1" y1="173.5" x2="275.1" y2="207.5" class="l"/>
<rect x="275.1" y="175.9" width="7.8" height="8.9" class="l"/>
<text x="279.6" y="181" class="rt" text-anchor="middle" transform="rotate(-90 279.6 181)">sp</text>
<rect x="277.6" y="186.9" width="7.4" height="7.1" class="l"/>
<rect x="278.6" y="187.9" width="5.4" height="5.1" rx="1" class="lt"/>
<rect x="277.6" y="195.4" width="7.4" height="5.6" class="l"/>
<line x1="275.1" y1="202.5" x2="286.4" y2="202.5" class="l"/>
<path d="M275.1 207.5H254.5V215.2H286.4" class="l"/>
<circle cx="259.2" cy="220.6" r="4.2" class="lw"/>
<circle cx="259.2" cy="220.2" r="2.9" class="l"/>
<path d="M255.2 222.2A4.4 4.4 0 0 0 263.2 222.2" class="l" style="stroke:#000;stroke-width:1.3"/>
<circle cx="270.1" cy="220.6" r="4.2" class="lw"/>
<circle cx="270.1" cy="220.2" r="2.9" class="l"/>
<path d="M266.1 222.2A4.4 4.4 0 0 0 274.1 222.2" class="l" style="stroke:#000;stroke-width:1.3"/>
<circle cx="281.9" cy="220.6" r="4.2" class="lw"/>
<circle cx="281.9" cy="220.2" r="2.9" class="l"/>
<path d="M277.9 222.2A4.4 4.4 0 0 0 285.9 222.2" class="l" style="stroke:#000;stroke-width:1.3"/>
<circle cx="191.2" cy="221.3" r="5.7" class="l"/>
<line x1="191.2" y1="213.2" x2="191.2" y2="221.6" class="l"/>
<path d="M189.6 220.8H192.8L191.2 223.4Z" class="bk"/>
<text x="194.8" y="213.4" class="rt" text-anchor="start" style="font-weight:bold;font-size:3.5px;fill:#111">MELLEMI lemfalg&#225;s</text>
<rect x="130.7" y="216.6" width="34" height="12.8" class="l"/>
<rect x="132.2" y="218" width="31.4" height="10.3" rx="3.2" class="l"/>
<circle cx="159.7" cy="223" r="0.5" class="bk"/>
<rect x="164.7" y="216.6" width="15.2" height="6.4" class="l"/>
<rect x="142.1" y="247" width="24.8" height="7.2" class="l"/>
<rect x="142.1" y="253.8" width="24.8" height="1.6" class="bk"/>
<path d="M144.7 248.4A4.2 3.6 0 0 0 153.1 248.4Z" class="l" style="stroke-width:.8;stroke:#000"/>
<line x1="148.9" y1="247" x2="148.9" y2="249.4" class="l" style="stroke:#000;stroke-width:.9"/>
<path d="M155.9 248.4A4.2 3.6 0 0 0 164.3 248.4Z" class="l" style="stroke-width:.8;stroke:#000"/>
<line x1="160.1" y1="247" x2="160.1" y2="249.4" class="l" style="stroke:#000;stroke-width:.9"/>
<rect x="130.8" y="256.1" width="19.6" height="18.3" class="l"/>
<rect x="132.4" y="257.8" width="16.4" height="15" class="l"/>
<line x1="132.4" y1="257.8" x2="147.4" y2="271.4" class="l"/>
<path d="M147.4 271.4L145.2 270.6L146.6 269.2Z" class="bk"/>
<rect x="152.9" y="261.3" width="2" height="7.6" class="l"/>
<ellipse cx="159.6" cy="265.1" rx="5.6" ry="4.4" class="l" style="stroke-width:.7"/>
<ellipse cx="160.2" cy="265.1" rx="4" ry="3" class="lt"/>
<rect x="171.4" y="265.9" width="18.1" height="4" fill="#999" stroke="#111" stroke-width=".6"/>
<path d="M171.4 267.6H168.4V279.6" class="l"/>
<path d="M166.9 278.6H169.9L168.4 281.2Z" class="bk"/>
<rect x="130.8" y="276.8" width="13.5" height="10.1" class="l"/>
<rect x="144.3" y="276.8" width="10.6" height="10.1" class="l"/>
<rect x="154.9" y="277.6" width="18.8" height="8.6" class="ds"/>
<path d="M135.3 288.6V282.0" class="l"/>
<path d="M133.8 283.2H136.8L135.3 280.4Z" class="bk"/>
<line x1="112" y1="288.5" x2="135.3" y2="288.5" class="l"/>
<rect x="179" y="299.7" width="24" height="11.7" class="l"/>
<line x1="191" y1="299.7" x2="191" y2="311.4" class="l"/>
<circle cx="185" cy="305.7" r="3.2" class="l"/>
<circle cx="197" cy="305.7" r="3.2" class="l"/>
<path d="M160.4 311.4V308.6A5 4.2 0 0 1 170.4 308.6V311.4" class="l" style="stroke-width:.8;stroke:#000"/>
<circle cx="165.4" cy="309.6" r="0.6" class="bk"/>
<rect x="227.2" y="243.2" width="15.7" height="33.9" class="lw"/>
<rect x="231.2" y="234.2" width="7.4" height="7" rx="0.8" class="lw"/>
<path d="M231.2 236.7V234.2H238.6V236.7" class="l" style="stroke:#000;stroke-width:.95;fill:none"/>
<rect x="231.2" y="279.5" width="7.4" height="7" rx="0.8" class="lw"/>
<path d="M231.2 284V286.5H238.6V284" class="l" style="stroke:#000;stroke-width:.95;fill:none"/>
<rect x="217.7" y="246.7" width="7.4" height="7" rx="0.8" class="lw"/>
<path d="M220.2 246.7H217.7V253.7H220.2" class="l" style="stroke:#000;stroke-width:.95;fill:none"/>
<rect x="244.5" y="246.7" width="7.4" height="7" rx="0.8" class="lw"/>
<path d="M249.4 246.7H251.9V253.7H249.4" class="l" style="stroke:#000;stroke-width:.95;fill:none"/>
<rect x="217.7" y="256.5" width="7.4" height="7" rx="0.8" class="lw"/>
<path d="M220.2 256.5H217.7V263.5H220.2" class="l" style="stroke:#000;stroke-width:.95;fill:none"/>
<rect x="244.5" y="256.5" width="7.4" height="7" rx="0.8" class="lw"/>
<path d="M249.4 256.5H251.9V263.5H249.4" class="l" style="stroke:#000;stroke-width:.95;fill:none"/>
<rect x="217.7" y="266.5" width="7.4" height="7" rx="0.8" class="lw"/>
<path d="M220.2 266.5H217.7V273.5H220.2" class="l" style="stroke:#000;stroke-width:.95;fill:none"/>
<rect x="244.5" y="266.5" width="7.4" height="7" rx="0.8" class="lw"/>
<path d="M249.4 266.5H251.9V273.5H249.4" class="l" style="stroke:#000;stroke-width:.95;fill:none"/>
<rect x="205.6" y="303" width="41.1" height="8.6" class="l"/>
<path d="M280.2 240.5H324.8Q325.8 240.5 325.8 241.5V256.6H295.2V286.3H280.2Q279.2 286.3 279.2 285.3V241.5Q279.2 240.5 280.2 240.5Z" class="lw"/>
<path d="M281.7 282.1V242.6H320.0" class="l"/>
<path d="M295.2 256.6V242.6M310.3 255.3V242.6M320.0 242.6V256.6M295.2 255.3H320.0" class="l"/>
<path d="M281.7 271.2H295.2M281.7 282.1H295.2M281.7 256.6H295.2" class="l"/>
<path d="M281.7 242.6L295.2 256.0M320.0 242.6L325.0 256.0M281.7 282.1L279.6 286" class="lt"/>
<rect x="302.7" y="264.5" width="19.4" height="12.6" rx="0.8" class="lw"/>
<rect x="303.7" y="265.5" width="17.4" height="10.6" rx="0.6" class="l"/>
<rect x="327.9" y="262.3" width="16.8" height="17.3" rx="0.8" class="lw"/>
<path d="M327.9 264.6H342.2V277.4H327.9M342.2 264.6L344.7 262.3M342.2 277.4L344.7 279.6" class="l"/>
<rect x="276.4" y="302.3" width="81.8" height="9.2" class="l"/>
<ellipse cx="317" cy="307" rx="11.8" ry="1.5" class="bk" style="fill:#444"/>
<ellipse cx="317" cy="306.6" rx="4" ry="2.6" class="l" style="fill:#aaa"/>
<line x1="323.9" y1="320.6" x2="351" y2="320.6" class="l"/>
<path d="M330.8 314.4A4.2 4.6 0 0 0 339.2 314.4Z" class="l" style="stroke-width:.9;stroke:#000"/>
<line x1="335" y1="313.5" x2="335" y2="315.6" class="l" style="stroke:#000;stroke-width:.9"/>
<path d="M342 314.4A4.2 4.6 0 0 0 350.4 314.4Z" class="l" style="stroke-width:.9;stroke:#000"/>
<line x1="346.2" y1="313.5" x2="346.2" y2="315.6" class="l" style="stroke:#000;stroke-width:.9"/>
<rect x="339" y="336.1" width="18.6" height="16.2" class="l"/>
<rect x="340.6" y="337.6" width="15.4" height="13.2" class="l"/>
<line x1="340.6" y1="337.6" x2="354.8" y2="349.6" class="l"/>
<path d="M354.8 349.6L352.6 349.0L353.8 347.6Z" class="bk"/>
<ellipse cx="288.6" cy="375.7" rx="3.6" ry="4.6" class="l" style="stroke-width:.7"/>
<ellipse cx="288.6" cy="376.2" rx="2.4" ry="3.2" class="lt"/>
<rect x="284" y="380.8" width="9.2" height="2.6" class="l"/>
<circle cx="296.6" cy="360" r="2.4" class="l"/>
<line x1="293.2" y1="360" x2="297.4" y2="360" class="l"/>
<rect x="320.2" y="372.4" width="29.2" height="34.1" class="lw"/>
<rect x="349.4" y="372.4" width="8.4" height="34.1" class="l"/>
<line x1="349.4" y1="389.5" x2="357.8" y2="389.5" class="l"/>
<rect x="346.8" y="373.4" width="2.2" height="2.4" class="lt"/>
<rect x="346.8" y="403.2" width="2.2" height="2.4" class="lt"/>
<rect x="351" y="362.4" width="6.8" height="9.6" class="l"/>
<line x1="347" y1="365.6" x2="351" y2="365.6" class="l"/>
<rect x="351.8" y="406.5" width="6" height="10.9" class="l"/>
<path d="M301.0 371.0H306.8V407.3H301.0" class="l"/>
<rect x="302.4" y="415" width="9.2" height="10" rx="1.2" class="l"/>
<rect x="303.5" y="416.1" width="7" height="7.8" rx="0.8" class="l"/>
<path d="M141 334.9 Q141 330.1 146.6 330.1 L167.2 330.1 Q172.8 330.1 172.8 334.9 L172.8 397.9 Q173 411.9 167 417.3 Q156.9 421.9 146.8 417.3 Q140.8 411.9 141 397.9 Z" class="lw"/>
<path d="M142.8 335.9 Q142.8 331.9 147.6 331.9 L166.2 331.9 Q171 331.9 171 335.9 L171 397.9 Q171 410.9 165.8 415.5 Q156.9 419.5 148 415.5 Q142.8 410.9 142.8 397.9 Z" class="lt"/>
<path d="M146 342.5 Q156.9 339.9 167.8 342.5 L166 354.2 L147.8 354.2 Z" class="l"/>
<path d="M147.8 354.2 L147.8 381.6 L166 381.6 L166 354.2 " class="l"/>
<path d="M144.6 385.3 Q156.9 379.3 169.2 385.3 L167.8 388.5 Q156.9 398.3 146 388.5 Z" class="l"/>
<path d="M144.6 342.9 L144.6 385.3 M169.2 342.9 L169.2 385.3 M144.6 360.9 L147.8 361.5 M144.6 371.9 L147.8 372.3 M169.2 360.9 L166 361.5 M169.2 371.9 L166 372.3 " class="lt"/>
<path d="M151.6 394.9 L153.2 417.7 M162.2 394.9 L160.6 417.7 " class="l"/>
<path d="M141 384.5 L138.4 384.5 L138.4 386.1 L141 386.5 M172.8 384.5 L175.4 384.5 L175.4 386.1 L172.8 386.5 " class="l"/>
<circle cx="156.9" cy="417.3" r="0.7" class="l"/>
<path d="M194.2 334.9 Q194.2 330.1 199.8 330.1 L220.4 330.1 Q226 330.1 226 334.9 L226 397.9 Q226.2 411.9 220.2 417.3 Q210.1 421.9 200 417.3 Q194 411.9 194.2 397.9 Z" class="lw"/>
<path d="M196 335.9 Q196 331.9 200.8 331.9 L219.4 331.9 Q224.2 331.9 224.2 335.9 L224.2 397.9 Q224.2 410.9 219 415.5 Q210.1 419.5 201.2 415.5 Q196 410.9 196 397.9 Z" class="lt"/>
<path d="M199.2 342.5 Q210.1 339.9 221 342.5 L219.2 354.2 L201 354.2 Z" class="l"/>
<path d="M201 354.2 L201 381.6 L219.2 381.6 L219.2 354.2 " class="l"/>
<path d="M197.8 385.3 Q210.1 379.3 222.4 385.3 L221 388.5 Q210.1 398.3 199.2 388.5 Z" class="l"/>
<path d="M197.8 342.9 L197.8 385.3 M222.4 342.9 L222.4 385.3 M197.8 360.9 L201 361.5 M197.8 371.9 L201 372.3 M222.4 360.9 L219.2 361.5 M222.4 371.9 L219.2 372.3 " class="lt"/>
<path d="M204.8 394.9 L206.4 417.7 M215.4 394.9 L213.8 417.7 " class="l"/>
<path d="M194.2 384.5 L191.6 384.5 L191.6 386.1 L194.2 386.5 M226 384.5 L228.6 384.5 L228.6 386.1 L226 386.5 " class="l"/>
<circle cx="210.1" cy="417.3" r="0.7" class="l"/>
<path d="M303.8 138.4V97.8H112.4V452.2H375.4V138.4H296.0" class="ds"/>
<line x1="112.4" y1="97.8" x2="208.1" y2="193.5" class="dg"/>
<line x1="303.8" y1="97.8" x2="208.1" y2="193.5" class="dg"/>
<line x1="208.1" y1="193.5" x2="208.1" y2="233.9" class="dg"/>
<line x1="303.8" y1="138.4" x2="208.1" y2="233.9" class="dg"/>
<line x1="208.1" y1="233.9" x2="244" y2="269.8" class="dg"/>
<line x1="375.4" y1="138.4" x2="244" y2="269.8" class="dg"/>
<line x1="244" y1="269.8" x2="244" y2="320.5" class="dg"/>
<line x1="112.4" y1="452.2" x2="244" y2="320.5" class="dg"/>
<line x1="375.4" y1="452.2" x2="244" y2="320.5" class="dg"/>
<text x="167.7" y="127.6" class="rb" text-anchor="middle">SZOBA</text>
<text x="167.7" y="134" class="rs" text-anchor="middle">lam.padl&#243;</text>
<text x="167.7" y="139.3" class="rs" text-anchor="middle">11,17 m<tspan dy="-1.6" font-size="3.2">2</tspan></text>
<text x="243.8" y="129.3" class="rb" text-anchor="middle">SZOBA</text>
<text x="243.8" y="135.4" class="rs" text-anchor="middle">lam.padl&#243;</text>
<text x="243.8" y="141.8" class="rs" text-anchor="middle">10,81 m<tspan dy="-1.6" font-size="3.2">2</tspan></text>
<text x="154.6" y="189.3" class="rb" text-anchor="middle">GARDR&#211;B</text>
<text x="154.6" y="195.4" class="rs" text-anchor="middle">lam.padl&#243;</text>
<text x="154.6" y="201.5" class="rs" text-anchor="middle">5,83 m<tspan dy="-1.6" font-size="3.2">2</tspan></text>
<text x="204.6" y="193.3" class="rb" text-anchor="middle">K&#214;ZL.</text>
<text x="204.6" y="199.7" class="rs" text-anchor="middle">lam.padl&#243;</text>
<text x="204.6" y="206" class="rs" text-anchor="middle">8,74 m<tspan dy="-1.6" font-size="3.2">2</tspan></text>
<text x="253.3" y="185.2" class="rb" text-anchor="middle">KONYHA</text>
<text x="253.3" y="191.2" class="rs" text-anchor="middle">ker&#225;mia</text>
<text x="253.3" y="197.5" class="rs" text-anchor="middle">9,18 m<tspan dy="-1.6" font-size="3.2">2</tspan></text>
<text x="153.8" y="234.3" class="rb" text-anchor="middle">F&#220;RD&#336;</text>
<text x="153.8" y="240.7" class="rs" text-anchor="middle">ker&#225;mia</text>
<text x="153.8" y="246.3" class="rs" text-anchor="middle">7,99 m<tspan dy="-1.6" font-size="3.2">2</tspan></text>
<text x="161.3" y="288.9" class="rb" text-anchor="middle">H&#193;ZT.</text>
<text x="161.3" y="294.9" class="rs" text-anchor="middle">ker&#225;mia</text>
<text x="161.3" y="301.2" class="rs" text-anchor="middle">7,13 m<tspan dy="-1.6" font-size="3.2">2</tspan></text>
<text x="267.8" y="251.9" class="rb" text-anchor="middle">&#201;TKEZ&#336;-NAPPALI</text>
<text x="267.8" y="257.8" class="rs" text-anchor="middle">lam.padl&#243;</text>
<text x="267.8" y="263.7" class="rs" text-anchor="middle">41,18 m<tspan dy="-1.6" font-size="3.2">2</tspan></text>
<text x="183.3" y="365.3" class="rb" text-anchor="middle">GAR&#193;ZS</text>
<text x="183.3" y="372.2" class="rs" text-anchor="middle">sim.beton</text>
<text x="183.3" y="378.7" class="rs" text-anchor="middle">35,34 m<tspan dy="-1.6" font-size="3.2">2</tspan></text>
<text x="262.3" y="339.3" class="rb" text-anchor="middle">ESZ.</text>
<text x="262.3" y="345.6" class="rs" text-anchor="middle">ker&#225;mia</text>
<text x="262.3" y="352.3" class="rs" text-anchor="middle">8,30 m<tspan dy="-1.6" font-size="3.2">2</tspan></text>
<text x="314.2" y="361.3" class="rb" text-anchor="middle">SZOBA</text>
<text x="314.2" y="367.6" class="rs" text-anchor="middle">lam.padl&#243;</text>
<text x="314.2" y="373.5" class="rs" text-anchor="middle">13,83 m<tspan dy="-1.6" font-size="3.2">2</tspan></text>
<text x="327.8" y="165.1" class="rb" text-anchor="middle">FEDETT TERASZ</text>
<text x="327.8" y="171.6" class="rs" text-anchor="middle">ker&#225;mia</text>
<text x="327.8" y="178" class="rs" text-anchor="middle">11,31 m<tspan dy="-1.6" font-size="3.2">2</tspan></text>
<text x="288.5" y="361.2" class="rb" text-anchor="middle" style="font-size:5.2px">WC</text>
<text x="286.2" y="366" class="rt" text-anchor="middle" style="font-size:2.6px">ker&#225;mia</text>
<text x="288.3" y="370.8" class="rt" text-anchor="middle">1,68 m&#178;</text>
<text x="338" y="327" class="rb" text-anchor="middle" style="font-size:5.6px">ZUH.</text>
<text x="337.8" y="331.4" class="rt" text-anchor="middle" style="font-size:3.8px">ker&#225;mia</text>
<text x="337.8" y="335.3" class="rt" text-anchor="middle">3,62 m&#178;</text>
<text x="270" y="410.8" class="rb" text-anchor="middle" style="font-size:3.8px">FEDETT TERASZ</text>
<text x="270" y="415.8" class="rt" text-anchor="middle" style="font-size:4.2px">ker&#225;mia</text>
<text x="270" y="422.2" class="rs" text-anchor="middle" style="font-size:5.5px">5,04 m<tspan dy="-1.6" font-size="3.2">2</tspan></text>
<text x="265.4" y="435.9" class="rb" text-anchor="middle" style="font-size:5.15px">terasz &#246;ssz. alapter.</text>
<text x="265" y="439.7" class="rt" text-anchor="middle">6,44 m&#178;</text>
<text x="349.6" y="123.8" class="rb" text-anchor="middle" style="font-size:5.15px">terasz &#246;ssz. alapter.</text>
<text x="350.6" y="127.6" class="rt" text-anchor="middle">16,34 m&#178;</text>
<text x="139.2" y="121.9" class="ds4" text-anchor="start">pm: 90</text>
<text x="169.6" y="121.9" class="ds4" text-anchor="start">pm: 90</text>
<text x="232.6" y="122" class="ds4" text-anchor="start">pm: 90</text>
<text x="262.3" y="122" class="ds4" text-anchor="start">pm: 90</text>
<text x="322.3" y="423.4" class="ds4" text-anchor="start">pm: 90</text>
<text x="277.9" y="379.8" class="ds4" text-anchor="start">pm: 1,77</text>
<text x="137.8" y="200.6" class="ds4" text-anchor="start" transform="rotate(-90 137.8 200.6)">pm: 1,77</text>
<text x="137.8" y="250.4" class="ds4" text-anchor="start" transform="rotate(-90 137.8 250.4)">pm: 1,77</text>
<text x="138.2" y="308.4" class="ds4" text-anchor="start" transform="rotate(-90 138.2 308.4)">pm: 1,77</text>
<text x="138.2" y="350.8" class="ds4" text-anchor="start" transform="rotate(-90 138.2 350.8)">pm: 1,77</text>
<text x="354.6" y="334.6" class="ds4" text-anchor="start" transform="rotate(-90 354.6 334.6)">pm: 1,77</text>
<text x="354.3" y="252.8" class="ds4" text-anchor="start" transform="rotate(-90 354.3 252.8)">pm: 90</text>
<text x="354.3" y="281.4" class="ds4" text-anchor="start" transform="rotate(-90 354.3 281.4)">pm: 90</text>
<line x1="347.3" y1="246" x2="358.2" y2="246" class="lt"/>
<line x1="347.3" y1="274.6" x2="358.2" y2="274.6" class="lt"/>
<text x="190.8" y="173.6" class="dl5" text-anchor="start" transform="rotate(-90 190.8 173.6)">90</text>
<text x="198.3" y="173.6" class="dl5" text-anchor="start" transform="rotate(-90 198.3 173.6)">210</text>
<text x="213.8" y="173.6" class="dl5" text-anchor="start" transform="rotate(-90 213.8 173.6)">90</text>
<text x="221.2" y="173.6" class="dl5" text-anchor="start" transform="rotate(-90 221.2 173.6)">210</text>
<text x="183.6" y="188.2" class="dl4" text-anchor="end">75</text>
<text x="183.6" y="195.8" class="dl4" text-anchor="end">210</text>
<text x="183.6" y="230.4" class="dl4" text-anchor="end">75</text>
<text x="183.6" y="238.2" class="dl4" text-anchor="end">210</text>
<text x="189.5" y="272.6" class="dl5" text-anchor="end" transform="rotate(-90 189.5 272.6)">90</text>
<text x="197.2" y="272.6" class="dl5" text-anchor="end" transform="rotate(-90 197.2 272.6)">210</text>
<text x="260" y="314.3" class="dl5" text-anchor="start" transform="rotate(-90 260 314.3)">90</text>
<text x="268" y="314.3" class="dl5" text-anchor="start" transform="rotate(-90 268 314.3)">210</text>
<text x="245.1" y="330.5" class="dl4" text-anchor="end">90</text>
<text x="245.1" y="337.9" class="dl4" text-anchor="end">210</text>
<text x="300" y="331.2" class="dl5" text-anchor="middle">90</text>
<text x="300.6" y="339.4" class="dl5" text-anchor="middle">210</text>
<text x="322.3" y="338.4" class="dl5" text-anchor="middle">75</text>
<text x="324.7" y="345.3" class="dl5" text-anchor="middle">210</text>
<text x="279.5" y="361.2" class="dl4" text-anchor="end">75</text>
<text x="279.5" y="368.7" class="dl4" text-anchor="end">210</text>
<text x="261.8" y="397.2" class="dl5" text-anchor="middle" transform="rotate(-90 261.8 397.2)">100</text>
<text x="269.2" y="397.2" class="dl5" text-anchor="middle" transform="rotate(-90 269.2 397.2)">237</text>
<text x="283.2" y="397.2" class="dl5" text-anchor="middle" transform="rotate(-90 283.2 397.2)">60</text>
<text x="291.4" y="397.2" class="dl5" text-anchor="middle" transform="rotate(-90 291.4 397.2)">60</text>
<text x="327.2" y="441" class="dl5" text-anchor="middle" transform="rotate(-90 327.2 441)">150</text>
<text x="335.2" y="441" class="dl5" text-anchor="middle" transform="rotate(-90 335.2 441)">147</text>
<text x="183.3" y="448.5" class="dl5" text-anchor="middle" transform="rotate(-90 183.3 448.5)">500</text>
<text x="190.5" y="448.5" class="dl5" text-anchor="middle" transform="rotate(-90 190.5 448.5)">212</text>
<text x="301" y="181.6" class="dl5" text-anchor="middle">120</text>
<text x="301" y="188" class="dl5" text-anchor="middle">147</text>
<text x="144.9" y="100.3" class="dl4" text-anchor="middle" transform="rotate(-90 144.9 100.3)">120</text>
<text x="152.4" y="100.3" class="dl4" text-anchor="middle" transform="rotate(-90 152.4 100.3)">147</text>
<text x="174.5" y="100.3" class="dl4" text-anchor="middle" transform="rotate(-90 174.5 100.3)">120</text>
<text x="182" y="100.3" class="dl4" text-anchor="middle" transform="rotate(-90 182 100.3)">147</text>
<text x="238.4" y="100.3" class="dl4" text-anchor="middle" transform="rotate(-90 238.4 100.3)">120</text>
<text x="245.9" y="100.3" class="dl4" text-anchor="middle" transform="rotate(-90 245.9 100.3)">147</text>
<text x="267.9" y="100.3" class="dl4" text-anchor="middle" transform="rotate(-90 267.9 100.3)">120</text>
<text x="275.4" y="100.3" class="dl4" text-anchor="middle" transform="rotate(-90 275.4 100.3)">147</text>
<text x="112.1" y="188.7" class="dl4" text-anchor="start" style="font-size:4.3px">60</text>
<text x="112.1" y="196.2" class="dl4" text-anchor="start" style="font-size:4.3px">60</text>
<line x1="131.2" y1="185.4" x2="131.2" y2="196.6" class="lt"/>
<text x="112.1" y="239.7" class="dl4" text-anchor="start" style="font-size:4.3px">60</text>
<text x="112.1" y="247.2" class="dl4" text-anchor="start" style="font-size:4.3px">60</text>
<line x1="131.2" y1="236.4" x2="131.2" y2="247.6" class="lt"/>
<text x="112.1" y="296.5" class="dl4" text-anchor="start" style="font-size:4.3px">60</text>
<text x="112.1" y="304" class="dl4" text-anchor="start" style="font-size:4.3px">60</text>
<line x1="131.2" y1="293.2" x2="131.2" y2="304.4" class="lt"/>
<text x="112.1" y="339.3" class="dl4" text-anchor="start" style="font-size:4.3px">90</text>
<text x="112.1" y="346.8" class="dl4" text-anchor="start" style="font-size:4.3px">60</text>
<line x1="131.2" y1="333.2" x2="131.2" y2="350" class="lt"/>
<text x="368.6" y="243.6" class="dl5" text-anchor="start">150</text>
<text x="368.6" y="251.6" class="dl5" text-anchor="start">147</text>
<text x="368.6" y="272.2" class="dl5" text-anchor="start">150</text>
<text x="368.6" y="280.2" class="dl5" text-anchor="start">147</text>
<text x="368.6" y="321.8" class="dl5" text-anchor="start">90</text>
<text x="368.6" y="329.8" class="dl5" text-anchor="start">60</text>
<text x="368.6" y="363.6" class="dl5" text-anchor="start">60</text>
<text x="368.6" y="371.6" class="dl5" text-anchor="start">200</text>
<text x="368.6" y="410" class="dl5" text-anchor="start">60</text>
<text x="368.6" y="418" class="dl5" text-anchor="start">200</text>
<text x="90.4" y="290.3" class="rt" text-anchor="start" style="font-weight:bold;font-size:3.7px;fill:#000">h&#337;szivatty&#250;</text>
<line x1="118" y1="25.2" x2="370" y2="25.2" class="dl"/>
<line x1="118.7" y1="27.5" x2="123.3" y2="22.9" class="tk"/>
<line x1="121" y1="20.2" x2="121" y2="29.8" class="ext"/>
<line x1="364.7" y1="27.5" x2="369.3" y2="22.9" class="tk"/>
<line x1="367" y1="20.2" x2="367" y2="29.8" class="ext"/>
<text x="244.2" y="24.4" class="d" text-anchor="middle">12,90</text>
<line x1="118" y1="35.2" x2="370" y2="35.2" class="dl"/>
<line x1="118.7" y1="37.5" x2="123.3" y2="32.9" class="tk"/>
<line x1="121" y1="30.2" x2="121" y2="39.8" class="ext"/>
<line x1="127.28" y1="37.5" x2="131.88" y2="32.9" class="tk"/>
<line x1="129.58" y1="30.2" x2="129.58" y2="39.8" class="ext"/>
<line x1="200.7" y1="37.5" x2="205.3" y2="32.9" class="tk"/>
<line x1="203" y1="30.2" x2="203" y2="39.8" class="ext"/>
<line x1="202.61" y1="37.5" x2="207.21" y2="32.9" class="tk"/>
<line x1="204.91" y1="30.2" x2="204.91" y2="39.8" class="ext"/>
<line x1="284.61" y1="37.5" x2="289.21" y2="32.9" class="tk"/>
<line x1="286.91" y1="30.2" x2="286.91" y2="39.8" class="ext"/>
<line x1="293.19" y1="37.5" x2="297.79" y2="32.9" class="tk"/>
<line x1="295.49" y1="30.2" x2="295.49" y2="39.8" class="ext"/>
<line x1="357.07" y1="37.5" x2="361.68" y2="32.9" class="tk"/>
<line x1="359.38" y1="30.2" x2="359.38" y2="39.8" class="ext"/>
<line x1="361.84" y1="37.5" x2="366.44" y2="32.9" class="tk"/>
<line x1="364.14" y1="30.2" x2="364.14" y2="39.8" class="ext"/>
<line x1="364.7" y1="37.5" x2="369.3" y2="32.9" class="tk"/>
<line x1="367" y1="30.2" x2="367" y2="39.8" class="ext"/>
<text x="113.4" y="34.4" class="d" text-anchor="middle">0,45</text>
<text x="161.8" y="34.4" class="d" text-anchor="middle">3,85</text>
<text x="196.2" y="34.4" class="d" text-anchor="middle">0,10</text>
<text x="241" y="34.4" class="d" text-anchor="middle">4,30</text>
<text x="279.6" y="34.4" class="d" text-anchor="middle">0,45</text>
<text x="322.6" y="34.4" class="d" text-anchor="middle">3,35</text>
<text x="351.8" y="34.4" class="d" text-anchor="middle">0,25</text>
<text x="373.6" y="34.4" class="d" text-anchor="middle">0,15</text>
<line x1="118" y1="44.6" x2="370" y2="44.6" class="dl"/>
<line x1="118.7" y1="46.9" x2="123.3" y2="42.3" class="tk"/>
<line x1="121" y1="39.6" x2="121" y2="49.2" class="ext"/>
<line x1="127.28" y1="46.9" x2="131.88" y2="42.3" class="tk"/>
<line x1="129.58" y1="39.6" x2="129.58" y2="49.2" class="ext"/>
<line x1="177.82" y1="46.9" x2="182.42" y2="42.3" class="tk"/>
<line x1="180.12" y1="39.6" x2="180.12" y2="49.2" class="ext"/>
<line x1="179.72" y1="46.9" x2="184.32" y2="42.3" class="tk"/>
<line x1="182.02" y1="39.6" x2="182.02" y2="49.2" class="ext"/>
<line x1="223.78" y1="46.9" x2="228.38" y2="42.3" class="tk"/>
<line x1="226.08" y1="39.6" x2="226.08" y2="49.2" class="ext"/>
<line x1="225.68" y1="46.9" x2="230.28" y2="42.3" class="tk"/>
<line x1="227.98" y1="39.6" x2="227.98" y2="49.2" class="ext"/>
<line x1="284.61" y1="46.9" x2="289.21" y2="42.3" class="tk"/>
<line x1="286.91" y1="39.6" x2="286.91" y2="49.2" class="ext"/>
<line x1="293.19" y1="46.9" x2="297.79" y2="42.3" class="tk"/>
<line x1="295.49" y1="39.6" x2="295.49" y2="49.2" class="ext"/>
<line x1="364.7" y1="46.9" x2="369.3" y2="42.3" class="tk"/>
<line x1="367" y1="39.6" x2="367" y2="49.2" class="ext"/>
<text x="113.4" y="43.8" class="d" text-anchor="middle">0,45</text>
<text x="150.2" y="43.8" class="d" text-anchor="middle">2,65</text>
<text x="173.2" y="43.8" class="d" text-anchor="middle">0,10</text>
<text x="198.6" y="43.8" class="d" text-anchor="middle">2,31</text>
<text x="219" y="43.8" class="d" text-anchor="middle">0,10</text>
<text x="252" y="43.8" class="d" text-anchor="middle">3,09</text>
<text x="279.6" y="43.8" class="d" text-anchor="middle">0,45</text>
<text x="331.2" y="43.8" class="d" text-anchor="middle">3,75</text>
<line x1="118" y1="54" x2="370" y2="54" class="dl"/>
<line x1="118.7" y1="56.3" x2="123.3" y2="51.7" class="tk"/>
<line x1="121" y1="49" x2="121" y2="58.6" class="ext"/>
<line x1="127.28" y1="56.3" x2="131.88" y2="51.7" class="tk"/>
<line x1="129.58" y1="49" x2="129.58" y2="58.6" class="ext"/>
<line x1="177.82" y1="56.3" x2="182.42" y2="51.7" class="tk"/>
<line x1="180.12" y1="49" x2="180.12" y2="58.6" class="ext"/>
<line x1="179.72" y1="56.3" x2="184.32" y2="51.7" class="tk"/>
<line x1="182.02" y1="49" x2="182.02" y2="58.6" class="ext"/>
<line x1="200.7" y1="56.3" x2="205.3" y2="51.7" class="tk"/>
<line x1="203" y1="49" x2="203" y2="58.6" class="ext"/>
<line x1="202.61" y1="56.3" x2="207.21" y2="51.7" class="tk"/>
<line x1="204.91" y1="49" x2="204.91" y2="58.6" class="ext"/>
<line x1="223.58" y1="56.3" x2="228.19" y2="51.7" class="tk"/>
<line x1="225.88" y1="49" x2="225.88" y2="58.6" class="ext"/>
<line x1="232.93" y1="56.3" x2="237.53" y2="51.7" class="tk"/>
<line x1="235.23" y1="49" x2="235.23" y2="58.6" class="ext"/>
<line x1="284.61" y1="56.3" x2="289.21" y2="51.7" class="tk"/>
<line x1="286.91" y1="49" x2="286.91" y2="58.6" class="ext"/>
<line x1="356.12" y1="56.3" x2="360.72" y2="51.7" class="tk"/>
<line x1="358.42" y1="49" x2="358.42" y2="58.6" class="ext"/>
<line x1="364.7" y1="56.3" x2="369.3" y2="51.7" class="tk"/>
<line x1="367" y1="49" x2="367" y2="58.6" class="ext"/>
<text x="113.4" y="53.2" class="d" text-anchor="middle">0,45</text>
<text x="150.2" y="53.2" class="d" text-anchor="middle">2,65</text>
<text x="173.2" y="53.2" class="d" text-anchor="middle">0,10</text>
<text x="192.8" y="53.2" class="d" text-anchor="middle">1,10</text>
<text x="204" y="48.4" class="d" text-anchor="middle">0,10</text>
<text x="215.8" y="53.2" class="d" text-anchor="middle">1,10</text>
<text x="243" y="53.2" class="d" text-anchor="middle">0,49</text>
<text x="266" y="53.2" class="d" text-anchor="middle">2,70</text>
<text x="317.8" y="53.2" class="d" text-anchor="middle">3,75</text>
<text x="351" y="53.2" class="d" text-anchor="middle">0,45</text>
<line x1="109.42" y1="63.7" x2="378.58" y2="63.7" class="dl"/>
<line x1="110.12" y1="66" x2="114.72" y2="61.4" class="tk"/>
<line x1="112.42" y1="58.7" x2="112.42" y2="68.3" class="ext"/>
<line x1="118.7" y1="66" x2="123.3" y2="61.4" class="tk"/>
<line x1="121" y1="58.7" x2="121" y2="68.3" class="ext"/>
<line x1="127.28" y1="66" x2="131.88" y2="61.4" class="tk"/>
<line x1="129.58" y1="58.7" x2="129.58" y2="68.3" class="ext"/>
<line x1="139.68" y1="66" x2="144.28" y2="61.4" class="tk"/>
<line x1="141.98" y1="58.7" x2="141.98" y2="68.3" class="ext"/>
<line x1="163.51" y1="66" x2="168.11" y2="61.4" class="tk"/>
<line x1="165.81" y1="58.7" x2="165.81" y2="68.3" class="ext"/>
<line x1="177.82" y1="66" x2="182.42" y2="61.4" class="tk"/>
<line x1="180.12" y1="58.7" x2="180.12" y2="68.3" class="ext"/>
<line x1="179.72" y1="66" x2="184.32" y2="61.4" class="tk"/>
<line x1="182.02" y1="58.7" x2="182.02" y2="68.3" class="ext"/>
<line x1="200.7" y1="66" x2="205.3" y2="61.4" class="tk"/>
<line x1="203" y1="58.7" x2="203" y2="68.3" class="ext"/>
<line x1="202.61" y1="66" x2="207.21" y2="61.4" class="tk"/>
<line x1="204.91" y1="58.7" x2="204.91" y2="68.3" class="ext"/>
<line x1="356.12" y1="66" x2="360.72" y2="61.4" class="tk"/>
<line x1="358.42" y1="58.7" x2="358.42" y2="68.3" class="ext"/>
<line x1="364.7" y1="66" x2="369.3" y2="61.4" class="tk"/>
<line x1="367" y1="58.7" x2="367" y2="68.3" class="ext"/>
<line x1="373.28" y1="66" x2="377.88" y2="61.4" class="tk"/>
<line x1="375.58" y1="58.7" x2="375.58" y2="68.3" class="ext"/>
<text x="104.6" y="62.9" class="d" text-anchor="middle">0,45</text>
<text x="122.8" y="58.1" class="d" text-anchor="middle">0,45</text>
<text x="137" y="58.1" class="d" text-anchor="middle">0,65</text>
<text x="154.6" y="62.9" class="d" text-anchor="middle">1,25</text>
<text x="173.2" y="58.1" class="d" text-anchor="middle">0,75</text>
<text x="187.4" y="58.1" class="d" text-anchor="middle">0,10</text>
<text x="192.8" y="62.9" class="d" text-anchor="middle">1,10</text>
<text x="212.6" y="62.9" class="d" text-anchor="middle">0,10</text>
<text x="281.8" y="62.9" class="d" text-anchor="middle">8,05</text>
<text x="351" y="62.9" class="d" text-anchor="middle">0,45</text>
<text x="384" y="62.9" class="d" text-anchor="middle">0,45</text>
<line x1="118" y1="84.9" x2="370" y2="84.9" class="dl"/>
<line x1="118.7" y1="87.2" x2="123.3" y2="82.6" class="tk"/>
<line x1="121" y1="79.9" x2="121" y2="89.5" class="ext"/>
<line x1="144.44" y1="87.2" x2="149.04" y2="82.6" class="tk"/>
<line x1="146.74" y1="79.9" x2="146.74" y2="89.5" class="ext"/>
<line x1="174" y1="87.2" x2="178.6" y2="82.6" class="tk"/>
<line x1="176.3" y1="79.9" x2="176.3" y2="89.5" class="ext"/>
<line x1="237.89" y1="87.2" x2="242.49" y2="82.6" class="tk"/>
<line x1="240.19" y1="79.9" x2="240.19" y2="89.5" class="ext"/>
<line x1="267.45" y1="87.2" x2="272.05" y2="82.6" class="tk"/>
<line x1="269.75" y1="79.9" x2="269.75" y2="89.5" class="ext"/>
<line x1="293.19" y1="87.2" x2="297.79" y2="82.6" class="tk"/>
<line x1="295.49" y1="79.9" x2="295.49" y2="89.5" class="ext"/>
<line x1="323.7" y1="87.2" x2="328.3" y2="82.6" class="tk"/>
<line x1="326" y1="79.9" x2="326" y2="89.5" class="ext"/>
<line x1="364.7" y1="87.2" x2="369.3" y2="82.6" class="tk"/>
<line x1="367" y1="79.9" x2="367" y2="89.5" class="ext"/>
<text x="134.6" y="84.1" class="d" text-anchor="middle">1,35</text>
<text x="161.6" y="84.1" class="d" text-anchor="middle">1,55</text>
<text x="208.2" y="84.1" class="d" text-anchor="middle">3,35</text>
<text x="255" y="84.1" class="d" text-anchor="middle">1,55</text>
<text x="283" y="84.1" class="d" text-anchor="middle">1,35</text>
<text x="310.6" y="84.1" class="d" text-anchor="middle">1,60</text>
<text x="346.4" y="84.1" class="d" text-anchor="middle">2,15</text>
<line x1="118" y1="462.6" x2="369.81" y2="462.6" class="dl"/>
<line x1="118.7" y1="464.9" x2="123.3" y2="460.3" class="tk"/>
<line x1="121" y1="457.6" x2="121" y2="467.2" class="ext"/>
<line x1="182.01" y1="464.9" x2="186.61" y2="460.3" class="tk"/>
<line x1="184.31" y1="457.6" x2="184.31" y2="467.2" class="ext"/>
<line x1="245.32" y1="464.9" x2="249.92" y2="460.3" class="tk"/>
<line x1="247.62" y1="457.6" x2="247.62" y2="467.2" class="ext"/>
<line x1="261.53" y1="464.9" x2="266.13" y2="460.3" class="tk"/>
<line x1="263.83" y1="457.6" x2="263.83" y2="467.2" class="ext"/>
<line x1="283.46" y1="464.9" x2="288.06" y2="460.3" class="tk"/>
<line x1="285.76" y1="457.6" x2="285.76" y2="467.2" class="ext"/>
<line x1="290.14" y1="464.9" x2="294.74" y2="460.3" class="tk"/>
<line x1="292.44" y1="457.6" x2="292.44" y2="467.2" class="ext"/>
<line x1="327.33" y1="464.9" x2="331.93" y2="460.3" class="tk"/>
<line x1="329.63" y1="457.6" x2="329.63" y2="467.2" class="ext"/>
<line x1="364.51" y1="464.9" x2="369.11" y2="460.3" class="tk"/>
<line x1="366.81" y1="457.6" x2="366.81" y2="467.2" class="ext"/>
<text x="152.8" y="461.8" class="d" text-anchor="middle">3,32</text>
<text x="216.2" y="461.8" class="d" text-anchor="middle">3,32</text>
<text x="254.8" y="461.8" class="d" text-anchor="middle">0,85</text>
<text x="274.8" y="461.8" class="d" text-anchor="middle">1,15</text>
<text x="299.2" y="461.8" class="d" text-anchor="middle">0,35</text>
<text x="315.6" y="461.8" class="d" text-anchor="middle">1,95</text>
<text x="348.4" y="461.8" class="d" text-anchor="middle">1,95</text>
<line x1="109.42" y1="492" x2="378.58" y2="492" class="dl"/>
<line x1="110.12" y1="494.3" x2="114.72" y2="489.7" class="tk"/>
<line x1="112.42" y1="487" x2="112.42" y2="496.6" class="ext"/>
<line x1="118.7" y1="494.3" x2="123.3" y2="489.7" class="tk"/>
<line x1="121" y1="487" x2="121" y2="496.6" class="ext"/>
<line x1="127.28" y1="494.3" x2="131.88" y2="489.7" class="tk"/>
<line x1="129.58" y1="487" x2="129.58" y2="496.6" class="ext"/>
<line x1="148.26" y1="494.3" x2="152.86" y2="489.7" class="tk"/>
<line x1="150.56" y1="487" x2="150.56" y2="496.6" class="ext"/>
<line x1="150.17" y1="494.3" x2="154.77" y2="489.7" class="tk"/>
<line x1="152.47" y1="487" x2="152.47" y2="496.6" class="ext"/>
<line x1="177.82" y1="494.3" x2="182.42" y2="489.7" class="tk"/>
<line x1="180.12" y1="487" x2="180.12" y2="496.6" class="ext"/>
<line x1="179.72" y1="494.3" x2="184.32" y2="489.7" class="tk"/>
<line x1="182.02" y1="487" x2="182.02" y2="496.6" class="ext"/>
<line x1="200.7" y1="494.3" x2="205.3" y2="489.7" class="tk"/>
<line x1="203" y1="487" x2="203" y2="496.6" class="ext"/>
<line x1="202.61" y1="494.3" x2="207.21" y2="489.7" class="tk"/>
<line x1="204.91" y1="487" x2="204.91" y2="496.6" class="ext"/>
<line x1="356.12" y1="494.3" x2="360.72" y2="489.7" class="tk"/>
<line x1="358.42" y1="487" x2="358.42" y2="496.6" class="ext"/>
<line x1="364.7" y1="494.3" x2="369.3" y2="489.7" class="tk"/>
<line x1="367" y1="487" x2="367" y2="496.6" class="ext"/>
<line x1="373.28" y1="494.3" x2="377.88" y2="489.7" class="tk"/>
<line x1="375.58" y1="487" x2="375.58" y2="496.6" class="ext"/>
<text x="104.6" y="491.2" class="d" text-anchor="middle">0,45</text>
<text x="125.4" y="486.4" class="d" text-anchor="middle">0,45</text>
<text x="140.2" y="491.2" class="d" text-anchor="middle">1,10</text>
<text x="151.6" y="486.4" class="d" text-anchor="middle">0,10</text>
<text x="166.6" y="491.2" class="d" text-anchor="middle">1,45</text>
<text x="181.6" y="486.4" class="d" text-anchor="middle">0,10</text>
<text x="192.8" y="491.2" class="d" text-anchor="middle">1,10</text>
<text x="212.8" y="491.2" class="d" text-anchor="middle">0,10</text>
<text x="281.8" y="491.2" class="d" text-anchor="middle">8,05</text>
<text x="351" y="491.2" class="d" text-anchor="middle">0,45</text>
<text x="384" y="491.2" class="d" text-anchor="middle">0,45</text>
<line x1="118" y1="501.2" x2="370" y2="501.2" class="dl"/>
<line x1="118.7" y1="503.5" x2="123.3" y2="498.9" class="tk"/>
<line x1="121" y1="496.2" x2="121" y2="505.8" class="ext"/>
<line x1="127.28" y1="503.5" x2="131.88" y2="498.9" class="tk"/>
<line x1="129.58" y1="496.2" x2="129.58" y2="505.8" class="ext"/>
<line x1="200.7" y1="503.5" x2="205.3" y2="498.9" class="tk"/>
<line x1="203" y1="496.2" x2="203" y2="505.8" class="ext"/>
<line x1="202.61" y1="503.5" x2="207.21" y2="498.9" class="tk"/>
<line x1="204.91" y1="496.2" x2="204.91" y2="505.8" class="ext"/>
<line x1="356.12" y1="503.5" x2="360.72" y2="498.9" class="tk"/>
<line x1="358.42" y1="496.2" x2="358.42" y2="505.8" class="ext"/>
<line x1="364.7" y1="503.5" x2="369.3" y2="498.9" class="tk"/>
<line x1="367" y1="496.2" x2="367" y2="505.8" class="ext"/>
<text x="113.4" y="500.4" class="d" text-anchor="middle">0,45</text>
<text x="161.8" y="500.4" class="d" text-anchor="middle">3,85</text>
<text x="196.2" y="500.4" class="d" text-anchor="middle">0,10</text>
<text x="277" y="500.4" class="d" text-anchor="middle">8,05</text>
<text x="351" y="500.4" class="d" text-anchor="middle">0,45</text>
<line x1="118" y1="510.7" x2="370" y2="510.7" class="dl"/>
<line x1="118.7" y1="513" x2="123.3" y2="508.4" class="tk"/>
<line x1="121" y1="505.7" x2="121" y2="515.3" class="ext"/>
<line x1="127.28" y1="513" x2="131.88" y2="508.4" class="tk"/>
<line x1="129.58" y1="505.7" x2="129.58" y2="515.3" class="ext"/>
<line x1="236.93" y1="513" x2="241.53" y2="508.4" class="tk"/>
<line x1="239.23" y1="505.7" x2="239.23" y2="515.3" class="ext"/>
<line x1="244.56" y1="513" x2="249.16" y2="508.4" class="tk"/>
<line x1="246.86" y1="505.7" x2="246.86" y2="515.3" class="ext"/>
<line x1="274.12" y1="513" x2="278.72" y2="508.4" class="tk"/>
<line x1="276.42" y1="505.7" x2="276.42" y2="515.3" class="ext"/>
<line x1="276.03" y1="513" x2="280.63" y2="508.4" class="tk"/>
<line x1="278.33" y1="505.7" x2="278.33" y2="515.3" class="ext"/>
<line x1="297" y1="513" x2="301.6" y2="508.4" class="tk"/>
<line x1="299.3" y1="505.7" x2="299.3" y2="515.3" class="ext"/>
<line x1="298.91" y1="513" x2="303.51" y2="508.4" class="tk"/>
<line x1="301.21" y1="505.7" x2="301.21" y2="515.3" class="ext"/>
<line x1="319.89" y1="513" x2="324.49" y2="508.4" class="tk"/>
<line x1="322.19" y1="505.7" x2="322.19" y2="515.3" class="ext"/>
<line x1="321.8" y1="513" x2="326.4" y2="508.4" class="tk"/>
<line x1="324.1" y1="505.7" x2="324.1" y2="515.3" class="ext"/>
<line x1="356.12" y1="513" x2="360.72" y2="508.4" class="tk"/>
<line x1="358.42" y1="505.7" x2="358.42" y2="515.3" class="ext"/>
<line x1="364.7" y1="513" x2="369.3" y2="508.4" class="tk"/>
<line x1="367" y1="505.7" x2="367" y2="515.3" class="ext"/>
<text x="113.4" y="509.9" class="d" text-anchor="middle">0,45</text>
<text x="179.6" y="509.9" class="d" text-anchor="middle">5,75</text>
<text x="232" y="509.9" class="d" text-anchor="middle">0,40</text>
<text x="261.8" y="509.9" class="d" text-anchor="middle">1,55</text>
<text x="277" y="504.9" class="d" text-anchor="middle">0,10</text>
<text x="288.8" y="509.9" class="d" text-anchor="middle">1,10</text>
<text x="299.8" y="504.9" class="d" text-anchor="middle">0,10</text>
<text x="312" y="509.9" class="d" text-anchor="middle">1,10</text>
<text x="330.6" y="509.9" class="d" text-anchor="middle">0,10</text>
<text x="345.8" y="509.9" class="d" text-anchor="middle">1,80</text>
<text x="374.8" y="509.9" class="d" text-anchor="middle">0,45</text>
<line x1="118" y1="520.3" x2="370" y2="520.3" class="dl"/>
<line x1="118.7" y1="522.6" x2="123.3" y2="518" class="tk"/>
<line x1="121" y1="515.3" x2="121" y2="524.9" class="ext"/>
<line x1="127.28" y1="522.6" x2="131.88" y2="518" class="tk"/>
<line x1="129.58" y1="515.3" x2="129.58" y2="524.9" class="ext"/>
<line x1="236.93" y1="522.6" x2="241.53" y2="518" class="tk"/>
<line x1="239.23" y1="515.3" x2="239.23" y2="524.9" class="ext"/>
<line x1="244.56" y1="522.6" x2="249.16" y2="518" class="tk"/>
<line x1="246.86" y1="515.3" x2="246.86" y2="524.9" class="ext"/>
<line x1="274.12" y1="522.6" x2="278.72" y2="518" class="tk"/>
<line x1="276.42" y1="515.3" x2="276.42" y2="524.9" class="ext"/>
<line x1="276.03" y1="522.6" x2="280.63" y2="518" class="tk"/>
<line x1="278.33" y1="515.3" x2="278.33" y2="524.9" class="ext"/>
<line x1="297" y1="522.6" x2="301.6" y2="518" class="tk"/>
<line x1="299.3" y1="515.3" x2="299.3" y2="524.9" class="ext"/>
<line x1="298.91" y1="522.6" x2="303.51" y2="518" class="tk"/>
<line x1="301.21" y1="515.3" x2="301.21" y2="524.9" class="ext"/>
<line x1="356.12" y1="522.6" x2="360.72" y2="518" class="tk"/>
<line x1="358.42" y1="515.3" x2="358.42" y2="524.9" class="ext"/>
<line x1="364.7" y1="522.6" x2="369.3" y2="518" class="tk"/>
<line x1="367" y1="515.3" x2="367" y2="524.9" class="ext"/>
<text x="113.4" y="519.5" class="d" text-anchor="middle">0,45</text>
<text x="179.6" y="519.5" class="d" text-anchor="middle">5,75</text>
<text x="232" y="519.5" class="d" text-anchor="middle">0,40</text>
<text x="261.8" y="519.5" class="d" text-anchor="middle">1,55</text>
<text x="276" y="514.9" class="d" text-anchor="middle">0,10</text>
<text x="288.8" y="519.5" class="d" text-anchor="middle">1,10</text>
<text x="307.4" y="519.5" class="d" text-anchor="middle">0,10</text>
<text x="328.2" y="519.5" class="d" text-anchor="middle">3,00</text>
<text x="351" y="519.5" class="d" text-anchor="middle">0,45</text>
<line x1="118" y1="529.6" x2="370" y2="529.6" class="dl"/>
<line x1="118.7" y1="531.9" x2="123.3" y2="527.3" class="tk"/>
<line x1="121" y1="524.6" x2="121" y2="534.2" class="ext"/>
<line x1="127.28" y1="531.9" x2="131.88" y2="527.3" class="tk"/>
<line x1="129.58" y1="524.6" x2="129.58" y2="534.2" class="ext"/>
<line x1="236.93" y1="531.9" x2="241.53" y2="527.3" class="tk"/>
<line x1="239.23" y1="524.6" x2="239.23" y2="534.2" class="ext"/>
<line x1="245.52" y1="531.9" x2="250.12" y2="527.3" class="tk"/>
<line x1="247.82" y1="524.6" x2="247.82" y2="534.2" class="ext"/>
<line x1="290.33" y1="531.9" x2="294.93" y2="527.3" class="tk"/>
<line x1="292.63" y1="524.6" x2="292.63" y2="534.2" class="ext"/>
<line x1="298.91" y1="531.9" x2="303.51" y2="527.3" class="tk"/>
<line x1="301.21" y1="524.6" x2="301.21" y2="534.2" class="ext"/>
<line x1="356.12" y1="531.9" x2="360.72" y2="527.3" class="tk"/>
<line x1="358.42" y1="524.6" x2="358.42" y2="534.2" class="ext"/>
<line x1="364.7" y1="531.9" x2="369.3" y2="527.3" class="tk"/>
<line x1="367" y1="524.6" x2="367" y2="534.2" class="ext"/>
<text x="113.4" y="528.8" class="d" text-anchor="middle">0,45</text>
<text x="179.6" y="528.8" class="d" text-anchor="middle">5,75</text>
<text x="232" y="528.8" class="d" text-anchor="middle">0,45</text>
<text x="265" y="528.8" class="d" text-anchor="middle">2,35</text>
<text x="284.8" y="528.8" class="d" text-anchor="middle">0,45</text>
<text x="324.2" y="528.8" class="d" text-anchor="middle">3,00</text>
<text x="351" y="528.8" class="d" text-anchor="middle">0,45</text>
<line x1="118" y1="539" x2="370" y2="539" class="dl"/>
<line x1="118.7" y1="541.3" x2="123.3" y2="536.7" class="tk"/>
<line x1="121" y1="534" x2="121" y2="543.6" class="ext"/>
<line x1="364.7" y1="541.3" x2="369.3" y2="536.7" class="tk"/>
<line x1="367" y1="534" x2="367" y2="543.6" class="ext"/>
<text x="244.4" y="538.2" class="d" text-anchor="middle">12,90</text>
<line x1="38" y1="106.5" x2="38" y2="443.56" class="dl"/>
<line x1="35.7" y1="108.8" x2="40.3" y2="104.2" class="tk"/>
<line x1="33" y1="106.5" x2="42.8" y2="106.5" class="ext"/>
<line x1="35.7" y1="445.86" x2="40.3" y2="441.26" class="tk"/>
<line x1="33" y1="443.56" x2="42.8" y2="443.56" class="ext"/>
<text x="37.2" y="274" class="d" text-anchor="middle" transform="rotate(-90 37.2 274)">17,75</text>
<line x1="48" y1="106.5" x2="48" y2="443.56" class="dl"/>
<line x1="45.7" y1="108.8" x2="50.3" y2="104.2" class="tk"/>
<line x1="43" y1="106.5" x2="52.8" y2="106.5" class="ext"/>
<line x1="45.7" y1="117.38" x2="50.3" y2="112.78" class="tk"/>
<line x1="43" y1="115.08" x2="52.8" y2="115.08" class="ext"/>
<line x1="45.7" y1="172.68" x2="50.3" y2="168.08" class="tk"/>
<line x1="43" y1="170.38" x2="52.8" y2="170.38" class="ext"/>
<line x1="45.7" y1="174.59" x2="50.3" y2="169.99" class="tk"/>
<line x1="43" y1="172.29" x2="52.8" y2="172.29" class="ext"/>
<line x1="45.7" y1="216.55" x2="50.3" y2="211.95" class="tk"/>
<line x1="43" y1="214.25" x2="52.8" y2="214.25" class="ext"/>
<line x1="45.7" y1="218.45" x2="50.3" y2="213.85" class="tk"/>
<line x1="43" y1="216.15" x2="52.8" y2="216.15" class="ext"/>
<line x1="45.7" y1="256.59" x2="50.3" y2="251.99" class="tk"/>
<line x1="43" y1="254.29" x2="52.8" y2="254.29" class="ext"/>
<line x1="45.7" y1="258.5" x2="50.3" y2="253.9" class="tk"/>
<line x1="43" y1="256.2" x2="52.8" y2="256.2" class="ext"/>
<line x1="45.7" y1="277.57" x2="50.3" y2="272.97" class="tk"/>
<line x1="43" y1="275.27" x2="52.8" y2="275.27" class="ext"/>
<line x1="45.7" y1="279.48" x2="50.3" y2="274.88" class="tk"/>
<line x1="43" y1="277.18" x2="52.8" y2="277.18" class="ext"/>
<line x1="45.7" y1="314.76" x2="50.3" y2="310.16" class="tk"/>
<line x1="43" y1="312.46" x2="52.8" y2="312.46" class="ext"/>
<line x1="45.7" y1="322.38" x2="50.3" y2="317.78" class="tk"/>
<line x1="43" y1="320.08" x2="52.8" y2="320.08" class="ext"/>
<line x1="45.7" y1="438.71" x2="50.3" y2="434.11" class="tk"/>
<line x1="43" y1="436.41" x2="52.8" y2="436.41" class="ext"/>
<line x1="45.7" y1="445.86" x2="50.3" y2="441.26" class="tk"/>
<line x1="43" y1="443.56" x2="52.8" y2="443.56" class="ext"/>
<text x="47.2" y="122" class="d" text-anchor="middle" transform="rotate(-90 47.2 122)">0,45</text>
<text x="47.2" y="141.9" class="d" text-anchor="middle" transform="rotate(-90 47.2 141.9)">2,90</text>
<text x="47.2" y="161.8" class="d" text-anchor="middle" transform="rotate(-90 47.2 161.8)">0,10</text>
<text x="47.2" y="192.6" class="d" text-anchor="middle" transform="rotate(-90 47.2 192.6)">2,20</text>
<text x="47.2" y="206" class="d" text-anchor="middle" transform="rotate(-90 47.2 206)">0,10</text>
<text x="47.2" y="229.4" class="d" text-anchor="middle" transform="rotate(-90 47.2 229.4)">2,00</text>
<text x="47.2" y="247.4" class="d" text-anchor="middle" transform="rotate(-90 47.2 247.4)">0,10</text>
<text x="47.2" y="265.6" class="d" text-anchor="middle" transform="rotate(-90 47.2 265.6)">1,00</text>
<text x="47.2" y="284" class="d" text-anchor="middle" transform="rotate(-90 47.2 284)">0,50</text>
<text x="47.2" y="298" class="d" text-anchor="middle" transform="rotate(-90 47.2 298)">1,85</text>
<text x="47.2" y="326.2" class="d" text-anchor="middle" transform="rotate(-90 47.2 326.2)">0,40</text>
<text x="47.2" y="382" class="d" text-anchor="middle" transform="rotate(-90 47.2 382)">6,10</text>
<text x="47.2" y="451.2" class="d" text-anchor="middle" transform="rotate(-90 47.2 451.2)">0,45</text>
<line x1="57.8" y1="106.5" x2="57.8" y2="443.56" class="dl"/>
<line x1="55.5" y1="108.8" x2="60.1" y2="104.2" class="tk"/>
<line x1="52.8" y1="106.5" x2="62.6" y2="106.5" class="ext"/>
<line x1="55.5" y1="117.38" x2="60.1" y2="112.78" class="tk"/>
<line x1="52.8" y1="115.08" x2="62.6" y2="115.08" class="ext"/>
<line x1="55.5" y1="172.68" x2="60.1" y2="168.08" class="tk"/>
<line x1="52.8" y1="170.38" x2="62.6" y2="170.38" class="ext"/>
<line x1="55.5" y1="174.59" x2="60.1" y2="169.99" class="tk"/>
<line x1="52.8" y1="172.29" x2="62.6" y2="172.29" class="ext"/>
<line x1="55.5" y1="216.55" x2="60.1" y2="211.95" class="tk"/>
<line x1="52.8" y1="214.25" x2="62.6" y2="214.25" class="ext"/>
<line x1="55.5" y1="218.45" x2="60.1" y2="213.85" class="tk"/>
<line x1="52.8" y1="216.15" x2="62.6" y2="216.15" class="ext"/>
<line x1="55.5" y1="277.57" x2="60.1" y2="272.97" class="tk"/>
<line x1="52.8" y1="275.27" x2="62.6" y2="275.27" class="ext"/>
<line x1="55.5" y1="279.48" x2="60.1" y2="274.88" class="tk"/>
<line x1="52.8" y1="277.18" x2="62.6" y2="277.18" class="ext"/>
<line x1="55.5" y1="314.76" x2="60.1" y2="310.16" class="tk"/>
<line x1="52.8" y1="312.46" x2="62.6" y2="312.46" class="ext"/>
<line x1="55.5" y1="322.38" x2="60.1" y2="317.78" class="tk"/>
<line x1="52.8" y1="320.08" x2="62.6" y2="320.08" class="ext"/>
<line x1="55.5" y1="438.71" x2="60.1" y2="434.11" class="tk"/>
<line x1="52.8" y1="436.41" x2="62.6" y2="436.41" class="ext"/>
<line x1="55.5" y1="445.86" x2="60.1" y2="441.26" class="tk"/>
<line x1="52.8" y1="443.56" x2="62.6" y2="443.56" class="ext"/>
<text x="57" y="122" class="d" text-anchor="middle" transform="rotate(-90 57 122)">0,45</text>
<text x="57" y="147" class="d" text-anchor="middle" transform="rotate(-90 57 147)">2,90</text>
<text x="57" y="179.6" class="d" text-anchor="middle" transform="rotate(-90 57 179.6)">0,10</text>
<text x="57" y="196.6" class="d" text-anchor="middle" transform="rotate(-90 57 196.6)">2,20</text>
<text x="57" y="219" class="d" text-anchor="middle" transform="rotate(-90 57 219)">0,10</text>
<text x="57" y="249.6" class="d" text-anchor="middle" transform="rotate(-90 57 249.6)">3,10</text>
<text x="57" y="284" class="d" text-anchor="middle" transform="rotate(-90 57 284)">0,50</text>
<text x="57" y="298" class="d" text-anchor="middle" transform="rotate(-90 57 298)">1,85</text>
<text x="57" y="326.2" class="d" text-anchor="middle" transform="rotate(-90 57 326.2)">0,40</text>
<text x="57" y="382" class="d" text-anchor="middle" transform="rotate(-90 57 382)">6,10</text>
<text x="57" y="451.2" class="d" text-anchor="middle" transform="rotate(-90 57 451.2)">0,45</text>
<line x1="67.4" y1="106.5" x2="67.4" y2="443.56" class="dl"/>
<line x1="65.1" y1="108.8" x2="69.7" y2="104.2" class="tk"/>
<line x1="62.4" y1="106.5" x2="72.2" y2="106.5" class="ext"/>
<line x1="65.1" y1="117.38" x2="69.7" y2="112.78" class="tk"/>
<line x1="62.4" y1="115.08" x2="72.2" y2="115.08" class="ext"/>
<line x1="65.1" y1="172.68" x2="69.7" y2="168.08" class="tk"/>
<line x1="62.4" y1="170.38" x2="72.2" y2="170.38" class="ext"/>
<line x1="65.1" y1="174.59" x2="69.7" y2="169.99" class="tk"/>
<line x1="62.4" y1="172.29" x2="72.2" y2="172.29" class="ext"/>
<line x1="65.1" y1="216.55" x2="69.7" y2="211.95" class="tk"/>
<line x1="62.4" y1="214.25" x2="72.2" y2="214.25" class="ext"/>
<line x1="65.1" y1="218.45" x2="69.7" y2="213.85" class="tk"/>
<line x1="62.4" y1="216.15" x2="72.2" y2="216.15" class="ext"/>
<line x1="65.1" y1="277.57" x2="69.7" y2="272.97" class="tk"/>
<line x1="62.4" y1="275.27" x2="72.2" y2="275.27" class="ext"/>
<line x1="65.1" y1="279.48" x2="69.7" y2="274.88" class="tk"/>
<line x1="62.4" y1="277.18" x2="72.2" y2="277.18" class="ext"/>
<line x1="65.1" y1="314.76" x2="69.7" y2="310.16" class="tk"/>
<line x1="62.4" y1="312.46" x2="72.2" y2="312.46" class="ext"/>
<line x1="65.1" y1="322.38" x2="69.7" y2="317.78" class="tk"/>
<line x1="62.4" y1="320.08" x2="72.2" y2="320.08" class="ext"/>
<line x1="65.1" y1="438.71" x2="69.7" y2="434.11" class="tk"/>
<line x1="62.4" y1="436.41" x2="72.2" y2="436.41" class="ext"/>
<line x1="65.1" y1="445.86" x2="69.7" y2="441.26" class="tk"/>
<line x1="62.4" y1="443.56" x2="72.2" y2="443.56" class="ext"/>
<text x="66.6" y="122" class="d" text-anchor="middle" transform="rotate(-90 66.6 122)">0,45</text>
<text x="66.6" y="147" class="d" text-anchor="middle" transform="rotate(-90 66.6 147)">2,90</text>
<text x="66.6" y="179.6" class="d" text-anchor="middle" transform="rotate(-90 66.6 179.6)">0,10</text>
<text x="66.6" y="196.6" class="d" text-anchor="middle" transform="rotate(-90 66.6 196.6)">2,20</text>
<text x="66.6" y="206" class="d" text-anchor="middle" transform="rotate(-90 66.6 206)">0,10</text>
<text x="66.6" y="244.4" class="d" text-anchor="middle" transform="rotate(-90 66.6 244.4)">3,10</text>
<text x="66.6" y="284" class="d" text-anchor="middle" transform="rotate(-90 66.6 284)">0,50</text>
<text x="66.6" y="298" class="d" text-anchor="middle" transform="rotate(-90 66.6 298)">1,85</text>
<text x="66.6" y="326.2" class="d" text-anchor="middle" transform="rotate(-90 66.6 326.2)">0,40</text>
<text x="66.6" y="382" class="d" text-anchor="middle" transform="rotate(-90 66.6 382)">6,10</text>
<text x="66.6" y="451.2" class="d" text-anchor="middle" transform="rotate(-90 66.6 451.2)">0,45</text>
<line x1="77.2" y1="97.92" x2="77.2" y2="452.14" class="dl"/>
<line x1="74.9" y1="100.22" x2="79.5" y2="95.62" class="tk"/>
<line x1="72.2" y1="97.92" x2="82" y2="97.92" class="ext"/>
<line x1="74.9" y1="108.8" x2="79.5" y2="104.2" class="tk"/>
<line x1="72.2" y1="106.5" x2="82" y2="106.5" class="ext"/>
<line x1="74.9" y1="117.38" x2="79.5" y2="112.78" class="tk"/>
<line x1="72.2" y1="115.08" x2="82" y2="115.08" class="ext"/>
<line x1="74.9" y1="162.77" x2="79.5" y2="158.17" class="tk"/>
<line x1="72.2" y1="160.47" x2="82" y2="160.47" class="ext"/>
<line x1="74.9" y1="165.06" x2="79.5" y2="160.46" class="tk"/>
<line x1="72.2" y1="162.76" x2="82" y2="162.76" class="ext"/>
<line x1="74.9" y1="216.55" x2="79.5" y2="211.95" class="tk"/>
<line x1="72.2" y1="214.25" x2="82" y2="214.25" class="ext"/>
<line x1="74.9" y1="218.45" x2="79.5" y2="213.85" class="tk"/>
<line x1="72.2" y1="216.15" x2="82" y2="216.15" class="ext"/>
<line x1="74.9" y1="314.76" x2="79.5" y2="310.16" class="tk"/>
<line x1="72.2" y1="312.46" x2="82" y2="312.46" class="ext"/>
<line x1="74.9" y1="322.38" x2="79.5" y2="317.78" class="tk"/>
<line x1="72.2" y1="320.08" x2="82" y2="320.08" class="ext"/>
<line x1="74.9" y1="438.71" x2="79.5" y2="434.11" class="tk"/>
<line x1="72.2" y1="436.41" x2="82" y2="436.41" class="ext"/>
<line x1="74.9" y1="445.86" x2="79.5" y2="441.26" class="tk"/>
<line x1="72.2" y1="443.56" x2="82" y2="443.56" class="ext"/>
<line x1="74.9" y1="454.44" x2="79.5" y2="449.84" class="tk"/>
<line x1="72.2" y1="452.14" x2="82" y2="452.14" class="ext"/>
<text x="76.4" y="91.2" class="d" text-anchor="middle" transform="rotate(-90 76.4 91.2)">0,45</text>
<text x="76.4" y="122" class="d" text-anchor="middle" transform="rotate(-90 76.4 122)">0,45</text>
<text x="76.4" y="141.9" class="d" text-anchor="middle" transform="rotate(-90 76.4 141.9)">2,38</text>
<text x="76.4" y="170.6" class="d" text-anchor="middle" transform="rotate(-90 76.4 170.6)">0,12</text>
<text x="76.4" y="190.6" class="d" text-anchor="middle" transform="rotate(-90 76.4 190.6)">2,70</text>
<text x="76.4" y="219" class="d" text-anchor="middle" transform="rotate(-90 76.4 219)">0,10</text>
<text x="76.4" y="268.5" class="d" text-anchor="middle" transform="rotate(-90 76.4 268.5)">5,05</text>
<text x="76.4" y="326.2" class="d" text-anchor="middle" transform="rotate(-90 76.4 326.2)">0,40</text>
<text x="76.4" y="376.7" class="d" text-anchor="middle" transform="rotate(-90 76.4 376.7)">6,10</text>
<text x="76.4" y="427.6" class="d" text-anchor="middle" transform="rotate(-90 76.4 427.6)">0,45</text>
<text x="76.4" y="459.4" class="d" text-anchor="middle" transform="rotate(-90 76.4 459.4)">0,45</text>
<line x1="101.5" y1="106.5" x2="101.5" y2="443.56" class="dl"/>
<line x1="99.2" y1="108.8" x2="103.8" y2="104.2" class="tk"/>
<line x1="96.5" y1="106.5" x2="106.3" y2="106.5" class="ext"/>
<line x1="99.2" y1="193.38" x2="103.8" y2="188.78" class="tk"/>
<line x1="96.5" y1="191.08" x2="106.3" y2="191.08" class="ext"/>
<line x1="99.2" y1="244.29" x2="103.8" y2="239.69" class="tk"/>
<line x1="96.5" y1="241.99" x2="106.3" y2="241.99" class="ext"/>
<line x1="99.2" y1="300.83" x2="103.8" y2="296.23" class="tk"/>
<line x1="96.5" y1="298.53" x2="106.3" y2="298.53" class="ext"/>
<line x1="99.2" y1="343.93" x2="103.8" y2="339.33" class="tk"/>
<line x1="96.5" y1="341.63" x2="106.3" y2="341.63" class="ext"/>
<line x1="99.2" y1="445.86" x2="103.8" y2="441.26" class="tk"/>
<line x1="96.5" y1="443.56" x2="106.3" y2="443.56" class="ext"/>
<text x="100.7" y="149.7" class="d" text-anchor="middle" transform="rotate(-90 100.7 149.7)">4,45</text>
<text x="100.7" y="216.8" class="d" text-anchor="middle" transform="rotate(-90 100.7 216.8)">2,71</text>
<text x="100.7" y="270.9" class="d" text-anchor="middle" transform="rotate(-90 100.7 270.9)">3,00</text>
<text x="100.7" y="319.6" class="d" text-anchor="middle" transform="rotate(-90 100.7 319.6)">2,20</text>
<text x="100.7" y="392.2" class="d" text-anchor="middle" transform="rotate(-90 100.7 392.2)">5,40</text>
<line x1="387" y1="106.5" x2="387" y2="443.56" class="dl"/>
<line x1="384.7" y1="108.8" x2="389.3" y2="104.2" class="tk"/>
<line x1="382" y1="106.5" x2="391.8" y2="106.5" class="ext"/>
<line x1="384.7" y1="186.99" x2="389.3" y2="182.39" class="tk"/>
<line x1="382" y1="184.69" x2="391.8" y2="184.69" class="ext"/>
<line x1="384.7" y1="209.68" x2="389.3" y2="205.08" class="tk"/>
<line x1="382" y1="207.38" x2="391.8" y2="207.38" class="ext"/>
<line x1="384.7" y1="326.58" x2="389.3" y2="321.98" class="tk"/>
<line x1="382" y1="324.28" x2="391.8" y2="324.28" class="ext"/>
<line x1="384.7" y1="368.34" x2="389.3" y2="363.74" class="tk"/>
<line x1="382" y1="366.04" x2="391.8" y2="366.04" class="ext"/>
<line x1="384.7" y1="414.68" x2="389.3" y2="410.08" class="tk"/>
<line x1="382" y1="412.38" x2="391.8" y2="412.38" class="ext"/>
<line x1="384.7" y1="438.42" x2="389.3" y2="433.82" class="tk"/>
<line x1="382" y1="436.12" x2="391.8" y2="436.12" class="ext"/>
<line x1="384.7" y1="445.86" x2="389.3" y2="441.26" class="tk"/>
<line x1="382" y1="443.56" x2="391.8" y2="443.56" class="ext"/>
<text x="386.2" y="143.3" class="d" text-anchor="middle" transform="rotate(-90 386.2 143.3)">4,15</text>
<text x="386.2" y="194" class="d" text-anchor="middle" transform="rotate(-90 386.2 194)">1,15</text>
<text x="386.2" y="266.5" class="d" text-anchor="middle" transform="rotate(-90 386.2 266.5)">6,15</text>
<text x="386.2" y="345.4" class="d" text-anchor="middle" transform="rotate(-90 386.2 345.4)">2,20</text>
<text x="386.2" y="388.6" class="d" text-anchor="middle" transform="rotate(-90 386.2 388.6)">2,45</text>
<text x="386.2" y="423.6" class="d" text-anchor="middle" transform="rotate(-90 386.2 423.6)">1,25</text>
<text x="386.2" y="452.4" class="d" text-anchor="middle" transform="rotate(-90 386.2 452.4)">0,41</text>
<line x1="422.3" y1="106.5" x2="422.3" y2="452.14" class="dl"/>
<line x1="420" y1="108.8" x2="424.6" y2="104.2" class="tk"/>
<line x1="417.3" y1="106.5" x2="427.1" y2="106.5" class="ext"/>
<line x1="420" y1="117.38" x2="424.6" y2="112.78" class="tk"/>
<line x1="417.3" y1="115.08" x2="427.1" y2="115.08" class="ext"/>
<line x1="420" y1="162.77" x2="424.6" y2="158.17" class="tk"/>
<line x1="417.3" y1="160.47" x2="427.1" y2="160.47" class="ext"/>
<line x1="420" y1="165.06" x2="424.6" y2="160.46" class="tk"/>
<line x1="417.3" y1="162.76" x2="427.1" y2="162.76" class="ext"/>
<line x1="420" y1="218.45" x2="424.6" y2="213.85" class="tk"/>
<line x1="417.3" y1="216.15" x2="427.1" y2="216.15" class="ext"/>
<line x1="420" y1="314.76" x2="424.6" y2="310.16" class="tk"/>
<line x1="417.3" y1="312.46" x2="427.1" y2="312.46" class="ext"/>
<line x1="420" y1="316.66" x2="424.6" y2="312.06" class="tk"/>
<line x1="417.3" y1="314.36" x2="427.1" y2="314.36" class="ext"/>
<line x1="420" y1="387.22" x2="424.6" y2="382.62" class="tk"/>
<line x1="417.3" y1="384.92" x2="427.1" y2="384.92" class="ext"/>
<line x1="420" y1="395.8" x2="424.6" y2="391.2" class="tk"/>
<line x1="417.3" y1="393.5" x2="427.1" y2="393.5" class="ext"/>
<line x1="420" y1="438.42" x2="424.6" y2="433.82" class="tk"/>
<line x1="417.3" y1="436.12" x2="427.1" y2="436.12" class="ext"/>
<line x1="420" y1="445.86" x2="424.6" y2="441.26" class="tk"/>
<line x1="417.3" y1="443.56" x2="427.1" y2="443.56" class="ext"/>
<line x1="420" y1="454.44" x2="424.6" y2="449.84" class="tk"/>
<line x1="417.3" y1="452.14" x2="427.1" y2="452.14" class="ext"/>
<text x="421.5" y="122" class="d" text-anchor="middle" transform="rotate(-90 421.5 122)">0,45</text>
<text x="421.5" y="142" class="d" text-anchor="middle" transform="rotate(-90 421.5 142)">2,38</text>
<text x="421.5" y="170" class="d" text-anchor="middle" transform="rotate(-90 421.5 170)">0,12</text>
<text x="421.5" y="193.5" class="d" text-anchor="middle" transform="rotate(-90 421.5 193.5)">2,80</text>
<text x="421.5" y="261.7" class="d" text-anchor="middle" transform="rotate(-90 421.5 261.7)">5,05</text>
<text x="421.5" y="274" class="d" text-anchor="middle" transform="rotate(-90 421.5 274)">17,75</text>
<text x="421.5" y="322" class="d" text-anchor="middle" transform="rotate(-90 421.5 322)">0,10</text>
<text x="421.5" y="354.3" class="d" text-anchor="middle" transform="rotate(-90 421.5 354.3)">3,70</text>
<text x="421.5" y="400" class="d" text-anchor="middle" transform="rotate(-90 421.5 400)">0,45</text>
<text x="421.5" y="419" class="d" text-anchor="middle" transform="rotate(-90 421.5 419)">2,30</text>
<text x="421.5" y="447" class="d" text-anchor="middle" transform="rotate(-90 421.5 447)">0,41</text>
<line x1="431.4" y1="106.5" x2="431.4" y2="443.56" class="dl"/>
<line x1="429.1" y1="108.8" x2="433.7" y2="104.2" class="tk"/>
<line x1="426.4" y1="106.5" x2="436.2" y2="106.5" class="ext"/>
<line x1="429.1" y1="209.68" x2="433.7" y2="205.08" class="tk"/>
<line x1="426.4" y1="207.38" x2="436.2" y2="207.38" class="ext"/>
<line x1="429.1" y1="218.45" x2="433.7" y2="213.85" class="tk"/>
<line x1="426.4" y1="216.15" x2="436.2" y2="216.15" class="ext"/>
<line x1="429.1" y1="314.76" x2="433.7" y2="310.16" class="tk"/>
<line x1="426.4" y1="312.46" x2="436.2" y2="312.46" class="ext"/>
<line x1="429.1" y1="316.66" x2="433.7" y2="312.06" class="tk"/>
<line x1="426.4" y1="314.36" x2="436.2" y2="314.36" class="ext"/>
<line x1="429.1" y1="326.2" x2="433.7" y2="321.6" class="tk"/>
<line x1="426.4" y1="323.9" x2="436.2" y2="323.9" class="ext"/>
<line x1="429.1" y1="347.18" x2="433.7" y2="342.57" class="tk"/>
<line x1="426.4" y1="344.88" x2="436.2" y2="344.88" class="ext"/>
<line x1="429.1" y1="356.71" x2="433.7" y2="352.11" class="tk"/>
<line x1="426.4" y1="354.41" x2="436.2" y2="354.41" class="ext"/>
<line x1="429.1" y1="358.62" x2="433.7" y2="354.02" class="tk"/>
<line x1="426.4" y1="356.32" x2="436.2" y2="356.32" class="ext"/>
<line x1="429.1" y1="387.22" x2="433.7" y2="382.62" class="tk"/>
<line x1="426.4" y1="384.92" x2="436.2" y2="384.92" class="ext"/>
<line x1="429.1" y1="395.8" x2="433.7" y2="391.2" class="tk"/>
<line x1="426.4" y1="393.5" x2="436.2" y2="393.5" class="ext"/>
<line x1="429.1" y1="445.86" x2="433.7" y2="441.26" class="tk"/>
<line x1="426.4" y1="443.56" x2="436.2" y2="443.56" class="ext"/>
<text x="430.6" y="156" class="d" text-anchor="middle" transform="rotate(-90 430.6 156)">5,30</text>
<text x="430.6" y="222.3" class="d" text-anchor="middle" transform="rotate(-90 430.6 222.3)">0,45</text>
<text x="430.6" y="263" class="d" text-anchor="middle" transform="rotate(-90 430.6 263)">5,05</text>
<text x="430.6" y="302.7" class="d" text-anchor="middle" transform="rotate(-90 430.6 302.7)">0,10</text>
<text x="430.6" y="317.4" class="d" text-anchor="middle" transform="rotate(-90 430.6 317.4)">0,50</text>
<text x="430.6" y="333.8" class="d" text-anchor="middle" transform="rotate(-90 430.6 333.8)">1,10</text>
<text x="430.6" y="346.5" class="d" text-anchor="middle" transform="rotate(-90 430.6 346.5)">0,50</text>
<text x="430.6" y="361.7" class="d" text-anchor="middle" transform="rotate(-90 430.6 361.7)">0,10</text>
<text x="430.6" y="369" class="d" text-anchor="middle" transform="rotate(-90 430.6 369)">1,50</text>
<text x="430.6" y="400" class="d" text-anchor="middle" transform="rotate(-90 430.6 400)">0,45</text>
<text x="430.6" y="422.6" class="d" text-anchor="middle" transform="rotate(-90 430.6 422.6)">2,70</text>
<line x1="441.2" y1="106.5" x2="441.2" y2="443.56" class="dl"/>
<line x1="438.9" y1="108.8" x2="443.5" y2="104.2" class="tk"/>
<line x1="436.2" y1="106.5" x2="446" y2="106.5" class="ext"/>
<line x1="438.9" y1="209.68" x2="443.5" y2="205.08" class="tk"/>
<line x1="436.2" y1="207.38" x2="446" y2="207.38" class="ext"/>
<line x1="438.9" y1="218.45" x2="443.5" y2="213.85" class="tk"/>
<line x1="436.2" y1="216.15" x2="446" y2="216.15" class="ext"/>
<line x1="438.9" y1="314.76" x2="443.5" y2="310.16" class="tk"/>
<line x1="436.2" y1="312.46" x2="446" y2="312.46" class="ext"/>
<line x1="438.9" y1="316.66" x2="443.5" y2="312.06" class="tk"/>
<line x1="436.2" y1="314.36" x2="446" y2="314.36" class="ext"/>
<line x1="438.9" y1="339.17" x2="443.5" y2="334.57" class="tk"/>
<line x1="436.2" y1="336.87" x2="446" y2="336.87" class="ext"/>
<line x1="438.9" y1="356.33" x2="443.5" y2="351.73" class="tk"/>
<line x1="436.2" y1="354.03" x2="446" y2="354.03" class="ext"/>
<line x1="438.9" y1="358.62" x2="443.5" y2="354.02" class="tk"/>
<line x1="436.2" y1="356.32" x2="446" y2="356.32" class="ext"/>
<line x1="438.9" y1="431.08" x2="443.5" y2="426.48" class="tk"/>
<line x1="436.2" y1="428.78" x2="446" y2="428.78" class="ext"/>
<line x1="438.9" y1="438.42" x2="443.5" y2="433.82" class="tk"/>
<line x1="436.2" y1="436.12" x2="446" y2="436.12" class="ext"/>
<line x1="438.9" y1="445.86" x2="443.5" y2="441.26" class="tk"/>
<line x1="436.2" y1="443.56" x2="446" y2="443.56" class="ext"/>
<text x="440.4" y="156" class="d" text-anchor="middle" transform="rotate(-90 440.4 156)">5,30</text>
<text x="440.4" y="222.3" class="d" text-anchor="middle" transform="rotate(-90 440.4 222.3)">0,45</text>
<text x="440.4" y="263" class="d" text-anchor="middle" transform="rotate(-90 440.4 263)">5,05</text>
<text x="440.4" y="302.7" class="d" text-anchor="middle" transform="rotate(-90 440.4 302.7)">0,10</text>
<text x="440.4" y="325" class="d" text-anchor="middle" transform="rotate(-90 440.4 325)">1,18</text>
<text x="440.4" y="344.5" class="d" text-anchor="middle" transform="rotate(-90 440.4 344.5)">0,90</text>
<text x="440.4" y="363" class="d" text-anchor="middle" transform="rotate(-90 440.4 363)">0,12</text>
<text x="440.4" y="391.4" class="d" text-anchor="middle" transform="rotate(-90 440.4 391.4)">3,80</text>
<text x="440.4" y="420.4" class="d" text-anchor="middle" transform="rotate(-90 440.4 420.4)">0,45</text>
<text x="440.4" y="451.4" class="d" text-anchor="middle" transform="rotate(-90 440.4 451.4)">0,41</text>
<line x1="450.4" y1="106.5" x2="450.4" y2="443.56" class="dl"/>
<line x1="448.1" y1="108.8" x2="452.7" y2="104.2" class="tk"/>
<line x1="445.4" y1="106.5" x2="455.2" y2="106.5" class="ext"/>
<line x1="448.1" y1="152.66" x2="452.7" y2="148.06" class="tk"/>
<line x1="445.4" y1="150.36" x2="455.2" y2="150.36" class="ext"/>
<line x1="448.1" y1="157.43" x2="452.7" y2="152.83" class="tk"/>
<line x1="445.4" y1="155.13" x2="455.2" y2="155.13" class="ext"/>
<line x1="448.1" y1="209.68" x2="452.7" y2="205.08" class="tk"/>
<line x1="445.4" y1="207.38" x2="455.2" y2="207.38" class="ext"/>
<line x1="448.1" y1="445.86" x2="452.7" y2="441.26" class="tk"/>
<line x1="445.4" y1="443.56" x2="455.2" y2="443.56" class="ext"/>
<text x="449.6" y="128.4" class="d" text-anchor="middle" transform="rotate(-90 449.6 128.4)">2,30</text>
<text x="449.6" y="161.8" class="d" text-anchor="middle" transform="rotate(-90 449.6 161.8)">0,25</text>
<text x="449.6" y="186" class="d" text-anchor="middle" transform="rotate(-90 449.6 186)">2,75</text>
<text x="449.6" y="325" class="d" text-anchor="middle" transform="rotate(-90 449.6 325)">12,45</text>
<line x1="460.3" y1="106.5" x2="460.3" y2="443.56" class="dl"/>
<line x1="458" y1="108.8" x2="462.6" y2="104.2" class="tk"/>
<line x1="455.3" y1="106.5" x2="465.1" y2="106.5" class="ext"/>
<line x1="458" y1="445.86" x2="462.6" y2="441.26" class="tk"/>
<line x1="455.3" y1="443.56" x2="465.1" y2="443.56" class="ext"/>
<text x="459.5" y="274.4" class="d" text-anchor="middle" transform="rotate(-90 459.5 274.4)">17,75</text>
<line x1="146.7" y1="81" x2="146.7" y2="114.2" class="l"/>
<circle cx="146.7" cy="75.3" r="5.5" class="lw" style="fill:#fff;stroke:#111;stroke-width:.6"/>
<text x="146.7" y="76.7" class="cl" text-anchor="middle">BNY</text>
<line x1="176.3" y1="81" x2="176.3" y2="114.2" class="l"/>
<circle cx="176.3" cy="75.3" r="5.5" class="lw" style="fill:#fff;stroke:#111;stroke-width:.6"/>
<text x="176.3" y="76.7" class="cl" text-anchor="middle">BNY</text>
<line x1="240.2" y1="81" x2="240.2" y2="114.2" class="l"/>
<circle cx="240.2" cy="75.3" r="5.5" class="lw" style="fill:#fff;stroke:#111;stroke-width:.6"/>
<text x="240.2" y="76.7" class="cl" text-anchor="middle">BNY</text>
<line x1="269.7" y1="81" x2="269.7" y2="114.2" class="l"/>
<circle cx="269.7" cy="75.3" r="5.5" class="lw" style="fill:#fff;stroke:#111;stroke-width:.6"/>
<text x="269.7" y="76.7" class="cl" text-anchor="middle">BNY</text>
<line x1="326" y1="81" x2="326" y2="226.8" class="l" style="stroke:#666;stroke-width:.7"/>
<circle cx="326" cy="75.3" r="5.5" class="lw" style="fill:#fff;stroke:#111;stroke-width:.6"/>
<text x="326" y="76.7" class="cl" text-anchor="middle">TOL&#211;</text>
<line x1="96" y1="191" x2="140.4" y2="191" class="l"/>
<circle cx="90.3" cy="191" r="5.7" class="lw" style="fill:#fff;stroke:#111;stroke-width:.6"/>
<text x="91.6" y="191" class="cl" text-anchor="middle" transform="rotate(-90 91.6 191)">BNY</text>
<line x1="96" y1="242" x2="140.4" y2="242" class="l"/>
<circle cx="90.3" cy="242" r="5.7" class="lw" style="fill:#fff;stroke:#111;stroke-width:.6"/>
<text x="91.6" y="242" class="cl" text-anchor="middle" transform="rotate(-90 91.6 242)">BNY</text>
<line x1="96" y1="298.5" x2="140.4" y2="298.5" class="l"/>
<circle cx="90.3" cy="298.5" r="5.7" class="lw" style="fill:#fff;stroke:#111;stroke-width:.6"/>
<text x="91.6" y="298.5" class="cl" text-anchor="middle" transform="rotate(-90 91.6 298.5)">BNY</text>
<line x1="96" y1="341.6" x2="140.4" y2="341.6" class="l"/>
<circle cx="90.3" cy="341.6" r="5.7" class="lw" style="fill:#fff;stroke:#111;stroke-width:.6"/>
<text x="91.6" y="341.6" class="cl" text-anchor="middle" transform="rotate(-90 91.6 341.6)">BNY</text>
<line x1="184.7" y1="468.3" x2="184.7" y2="423.5" class="l"/>
<circle cx="184.7" cy="474.4" r="6" class="lw" style="fill:#fff;stroke:#111;stroke-width:.6"/>
<text x="184.7" y="475.8" class="cl" text-anchor="middle" style="font-size:5.6px">GK</text>
<line x1="264" y1="468.3" x2="264" y2="383.8" class="lt"/>
<circle cx="264" cy="474.3" r="6" class="lw" style="fill:#fff;stroke:#111;stroke-width:.6"/>
<text x="264" y="475.7" class="cl" text-anchor="middle" style="font-size:4.8px">BEA</text>
<line x1="285.6" y1="468.3" x2="285.6" y2="383.8" class="lt"/>
<circle cx="285.6" cy="474.3" r="6" class="lw" style="fill:#fff;stroke:#111;stroke-width:.6"/>
<text x="285.6" y="475.7" class="cl" text-anchor="middle" style="font-size:4.8px">BNY</text>
<line x1="329.4" y1="468.3" x2="329.4" y2="415.8" class="l"/>
<circle cx="329.4" cy="474.3" r="6" class="lw" style="fill:#fff;stroke:#111;stroke-width:.6"/>
<text x="329.4" y="475.7" class="cl" text-anchor="middle" style="font-size:5.2px">KSZBNY</text>
<line x1="295.6" y1="184.6" x2="393.6" y2="184.6" class="l"/>
<circle cx="398.4" cy="184.6" r="5.4" class="lw" style="fill:#fff;stroke:#111;stroke-width:.6"/>
<text x="399.7" y="184.6" class="cl" text-anchor="middle" transform="rotate(-90 399.7 184.6)" style="font-size:3.6px">KFBA</text>
<line x1="367" y1="246" x2="399.5" y2="246" class="l"/>
<circle cx="405.3" cy="246" r="5.8" class="lw" style="fill:#fff;stroke:#111;stroke-width:.6"/>
<text x="406.6" y="246" class="cl" text-anchor="middle" transform="rotate(-90 406.6 246)" style="font-size:4.2px">KSZTOBY</text>
<line x1="367" y1="274.4" x2="399.5" y2="274.4" class="l"/>
<circle cx="405.3" cy="274.4" r="5.8" class="lw" style="fill:#fff;stroke:#111;stroke-width:.6"/>
<text x="406.6" y="274.4" class="cl" text-anchor="middle" transform="rotate(-90 406.6 274.4)" style="font-size:4.2px">KSZTOBY</text>
<line x1="367" y1="323.6" x2="392.1" y2="323.6" class="l"/>
<circle cx="397.6" cy="323.6" r="5.5" class="lw" style="fill:#fff;stroke:#111;stroke-width:.6"/>
<text x="398.9" y="323.6" class="cl" text-anchor="middle" transform="rotate(-90 398.9 323.6)">BNY</text>
<line x1="367" y1="365.4" x2="392.4" y2="365.4" class="l"/>
<circle cx="398" cy="365.4" r="5.6" class="lw" style="fill:#fff;stroke:#111;stroke-width:.6"/>
<text x="399.3" y="365.4" class="cl" text-anchor="middle" transform="rotate(-90 399.3 365.4)">FIX</text>
<line x1="367" y1="411.7" x2="392.4" y2="411.7" class="l"/>
<circle cx="398" cy="411.7" r="5.6" class="lw" style="fill:#fff;stroke:#111;stroke-width:.6"/>
<text x="399.3" y="411.7" class="cl" text-anchor="middle" transform="rotate(-90 399.3 411.7)">FIX</text>
<line x1="245.3" y1="436.2" x2="245.3" y2="548.8" class="l"/>
<line x1="295.5" y1="436.2" x2="295.5" y2="548.8" class="l"/>
<text x="40.3" y="198.6" class="mk" text-anchor="start">B</text>
<path d="M53.5 199.6L65.3 199.6L59.4 187.8Z" class="bk"/>
<path d="M638.6 199.2L650.4 199.2L644.5 187.3Z" class="bk"/>
<text x="653.4" y="198.1" class="mk" text-anchor="start">B</text>
<line x1="53" y1="201.3" x2="645" y2="201.3" class="sec" style="stroke-dashoffset:7.7"/>
<line x1="407.5" y1="16.5" x2="407.5" y2="458" class="sec"/>
<path d="M664 219.6L664 230.8L652.5 225.2Z" class="bk"/>
<text x="660.7" y="215.3" class="mh" text-anchor="start" transform="rotate(-90 660.7 215.3)">H-4</text>
<text x="321.8" y="28.3" class="mh" text-anchor="start">H-3</text>
<path d="M337.8 21.2L349.4 21.2L343.6 32.4Z" class="bk"/>
<path d="M26.3 284.2L26.3 296L37.8 290.1Z" class="bk"/>
<text x="34.4" y="311" class="mh" text-anchor="start" transform="rotate(-90 34.4 311)">H-2</text>
<path d="M339.7 544.2L351.3 544.2L345.5 533.2Z" class="bk"/>
<text x="354.6" y="541.6" class="mh" text-anchor="start">H-1</text>
<path d="M393.5 459.5L405.3 454L405.3 465Z" class="bk"/>
<text x="404.4" y="479.2" class="mk" text-anchor="start" transform="rotate(-90 404.4 479.2)">A</text>
<circle cx="595.4" cy="514.4" r="18.9" class="l" style="stroke:#555"/>
<line x1="597" y1="495.5" x2="593.7" y2="533.2" class="l" style="stroke:#666"/>
<line x1="576.5" y1="512.7" x2="614.2" y2="516.2" class="l" style="stroke:#666"/>
<text x="568.8" y="519.6" class="mk" text-anchor="start" transform="rotate(-86.5 568.8 519.6)" style="font-size:21px">&#201;</text>
<g opacity=".72" stroke="#6c6c6c" fill="none" stroke-linejoin="miter">
<path d="M385.9 238.9L399.5 231.6L413.8 238.9V243.6L399.5 236.6L385.9 243.6Z" fill="#6c6c6c" stroke="none"/>
<path fill-rule="evenodd" d="M376.6 260.55A9.65 9.65 0 0 1 395.9 260.55V285.75A9.65 9.65 0 0 1 376.6 285.75ZM382.6 261.8V284.7A3.8 3.8 0 0 0 390.2 284.7V261.8A3.8 3.8 0 0 0 382.6 261.8Z" fill="#6c6c6c" stroke="none"/>
<path d="M425.1 263.5V261.7A10.8 10.8 0 0 0 403.5 261.7V284.6A10.8 10.8 0 0 0 425.1 284.6V282.8H419.4V283.6A4.9 4.9 0 0 1 409.6 283.6V262.9A4.9 4.9 0 0 1 419.4 262.9V263.5Z" fill="#6c6c6c" stroke="none"/>
<g stroke-width="1.35" stroke="#7c7c7c">
<rect x="375.9" y="305.8" width="6" height="10" rx="3"/>
<path d="M384.02 305.8H390.62M387.32 305.8V315.8"/>
<path d="M392.44 305.8H399.04M395.74 305.8V315.8"/>
<path d="M401.16 305.8V315.8M407.16 305.8V315.8M401.16 310.8H407.16"/>
<rect x="409.58" y="305.8" width="6" height="10" rx="3"/>
<path d="M418 315.8V305.8L424 315.8V305.8"/>
<path d="M381.1 325.94V325.6A2.6 2.6 0 0 0 375.9 325.6V329.6A2.6 2.6 0 0 0 381.1 329.6V329.26"/>
<path d="M387.85 323H383.05V332.2H387.85M383.05 327.6H387.05"/>
<path d="M389.8 332.2V323L395.2 332.2V323"/>
<path d="M396.85 323H402.65M399.75 323V332.2"/>
<path d="M404.3 332.2V323H406.9A2.6 2.48 0 0 1 406.9 327.97H404.3M406.9 327.97L409.5 332.2"/>
<path d="M411.45 323V329.5A2.7 2.7 0 0 0 416.85 329.5V323"/>
<path d="M418.8 332.2V323L422.1 328.7L425.4 323V332.2"/>
</g></g>
</svg>
</body></html>
